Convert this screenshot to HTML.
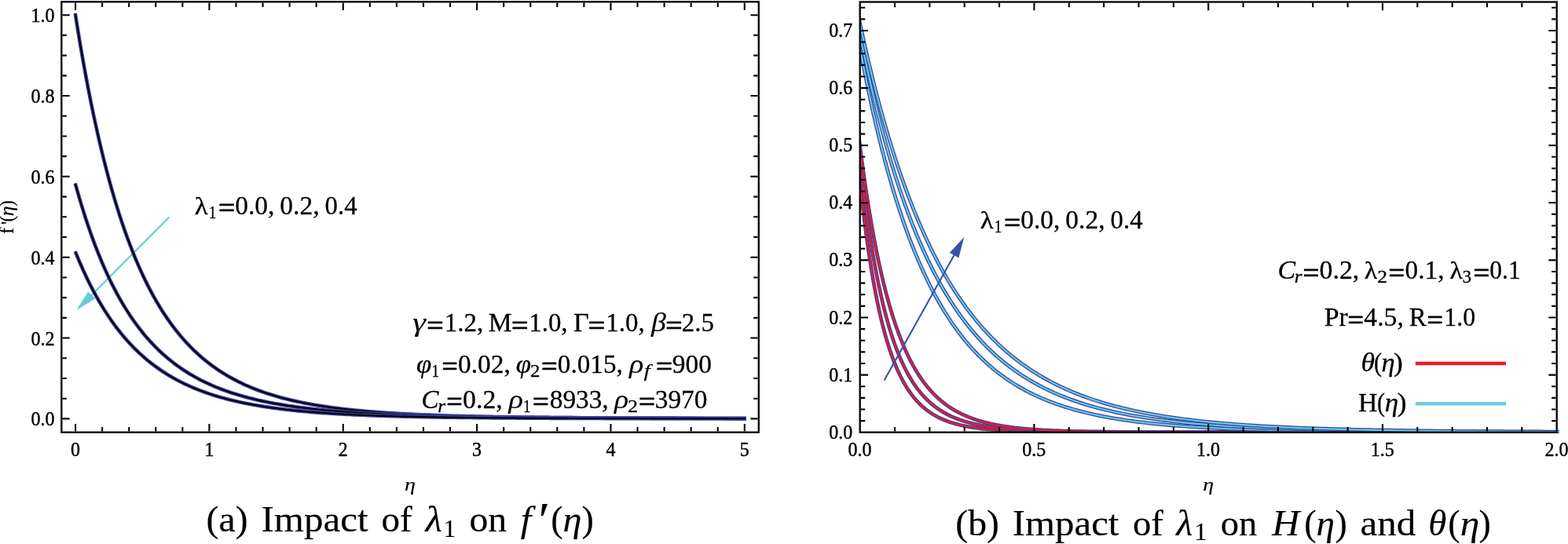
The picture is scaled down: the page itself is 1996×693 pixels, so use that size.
<!DOCTYPE html>
<html lang="en"><head><meta charset="utf-8"><title>Impact of λ1</title>
<style>html,body{margin:0;padding:0;background:#fff}body{width:1996px;height:693px}svg text{white-space:pre}</style>
</head><body>
<svg width="1996" height="693" viewBox="0 0 1996 693" style="display:block">
<rect width="1996" height="693" fill="#fff"/>
<g stroke="#69c9db" fill="#69c9db">
<line x1="215.4" y1="276.5" x2="115" y2="377.4" stroke-width="2.1"/>
<polygon points="97.4,395.1 112.1,371.5 121.2,380.4" stroke="none"/>
</g>
<g fill="none" stroke-linecap="butt" stroke-linejoin="round">
<path d="M95.75,17.23 L96.06,19.20 L99.35,39.80 L102.64,59.52 L105.93,78.41 L109.21,96.51 L112.50,113.85 L115.79,130.46 L119.08,146.37 L122.37,161.62 L125.66,176.24 L128.95,190.24 L132.23,203.67 L135.52,216.54 L138.81,228.87 L142.10,240.70 L145.39,252.05 L148.68,262.92 L151.97,273.35 L155.25,283.36 L158.54,292.95 L161.83,302.16 L165.12,310.99 L168.41,319.46 L171.70,327.60 L174.99,335.40 L178.28,342.89 L181.56,350.07 L184.85,356.97 L188.14,363.60 L191.43,369.95 L194.72,376.06 L198.01,381.92 L201.30,387.55 L204.58,392.96 L207.87,398.15 L211.16,403.14 L214.45,407.93 L217.74,412.54 L221.03,416.96 L224.32,421.21 L227.60,425.30 L230.89,429.23 L234.18,433.00 L237.47,436.63 L240.76,440.12 L244.05,443.47 L247.34,446.70 L250.62,449.80 L253.91,452.78 L257.20,455.65 L260.49,458.41 L263.78,461.06 L267.07,463.61 L270.36,466.07 L273.64,468.43 L276.93,470.71 L280.22,472.90 L283.51,475.01 L286.80,477.03 L290.09,478.99 L293.38,480.87 L296.67,482.68 L299.95,484.42 L303.24,486.10 L306.53,487.72 L309.82,489.27 L313.11,490.77 L316.40,492.22 L319.69,493.61 L322.97,494.95 L326.26,496.24 L329.55,497.49 L332.84,498.69 L336.13,499.85 L339.42,500.96 L342.71,502.04 L345.99,503.07 L349.28,504.07 L352.57,505.04 L355.86,505.97 L359.15,506.86 L362.44,507.73 L365.73,508.56 L369.01,509.37 L372.30,510.14 L375.59,510.89 L378.88,511.61 L382.17,512.31 L385.46,512.99 L388.75,513.64 L392.03,514.26 L395.32,514.87 L398.61,515.45 L401.90,516.02 L405.19,516.56 L408.48,517.09 L411.77,517.60 L415.06,518.09 L418.34,518.56 L421.63,519.02 L424.92,519.46 L428.21,519.89 L431.50,520.31 L434.79,520.71 L438.08,521.09 L441.36,521.47 L444.65,521.83 L447.94,522.17 L451.23,522.51 L454.52,522.84 L457.81,523.15 L461.10,523.46 L464.38,523.75 L467.67,524.04 L470.96,524.32 L474.25,524.58 L477.54,524.84 L480.83,525.09 L484.12,525.33 L487.40,525.57 L490.69,525.79 L493.98,526.01 L497.27,526.22 L500.56,526.43 L503.85,526.63 L507.14,526.82 L510.42,527.01 L513.71,527.19 L517.00,527.36 L520.29,527.53 L523.58,527.70 L526.87,527.86 L530.16,528.01 L533.45,528.16 L536.73,528.30 L540.02,528.44 L543.31,528.58 L546.60,528.71 L549.89,528.84 L553.18,528.96 L556.47,529.08 L559.75,529.20 L563.04,529.31 L566.33,529.42 L569.62,529.53 L572.91,529.63 L576.20,529.73 L579.49,529.83 L582.77,529.92 L586.06,530.01 L589.35,530.10 L592.64,530.19 L595.93,530.27 L599.22,530.35 L602.51,530.43 L605.79,530.51 L609.08,530.58 L612.37,530.65 L615.66,530.72 L618.95,530.79 L622.24,530.85 L625.53,530.92 L628.81,530.98 L632.10,531.04 L635.39,531.10 L638.68,531.15 L641.97,531.21 L645.26,531.26 L648.55,531.32 L651.84,531.37 L655.12,531.42 L658.41,531.46 L661.70,531.51 L664.99,531.56 L668.28,531.60 L671.57,531.64 L674.86,531.68 L678.14,531.72 L681.43,531.76 L684.72,531.80 L688.01,531.84 L691.30,531.87 L694.59,531.91 L697.88,531.94 L701.16,531.98 L704.45,532.01 L707.74,532.04 L711.03,532.07 L714.32,532.10 L717.61,532.13 L720.90,532.16 L724.18,532.19 L727.47,532.21 L730.76,532.24 L734.05,532.27 L737.34,532.29 L740.63,532.31 L743.92,532.34 L747.20,532.36 L750.49,532.38 L753.78,532.40 L757.07,532.43 L760.36,532.45 L763.65,532.47 L766.94,532.49 L770.23,532.51 L773.51,532.52 L776.80,532.54 L780.09,532.56 L783.38,532.58 L786.67,532.59 L789.96,532.61 L793.25,532.63 L796.53,532.64 L799.82,532.66 L803.11,532.67 L806.40,532.69 L809.69,532.70 L812.98,532.71 L816.27,532.73 L819.55,532.74 L822.84,532.75 L826.13,532.77 L829.42,532.78 L832.71,532.79 L836.00,532.80 L839.29,532.81 L842.57,532.82 L845.86,532.83 L849.15,532.85 L852.44,532.86 L855.73,532.87 L859.02,532.88 L862.31,532.88 L865.59,532.89 L868.88,532.90 L872.17,532.91 L875.46,532.92 L878.75,532.93 L882.04,532.94 L885.33,532.95 L888.62,532.95 L891.90,532.96 L895.19,532.97 L898.48,532.98 L901.77,532.98 L905.06,532.99 L908.35,533.00 L911.64,533.00 L914.92,533.01 L918.21,533.02 L921.50,533.02 L924.79,533.03 L928.08,533.04 L931.37,533.04 L934.66,533.05 L937.94,533.05 L941.23,533.06 L944.52,533.06 L947.81,533.07 L949.91,533.07" stroke="#3f3f9f" stroke-width="4.7"/>
<path d="M95.75,17.23 L96.06,19.20 L99.35,39.80 L102.64,59.52 L105.93,78.41 L109.21,96.51 L112.50,113.85 L115.79,130.46 L119.08,146.37 L122.37,161.62 L125.66,176.24 L128.95,190.24 L132.23,203.67 L135.52,216.54 L138.81,228.87 L142.10,240.70 L145.39,252.05 L148.68,262.92 L151.97,273.35 L155.25,283.36 L158.54,292.95 L161.83,302.16 L165.12,310.99 L168.41,319.46 L171.70,327.60 L174.99,335.40 L178.28,342.89 L181.56,350.07 L184.85,356.97 L188.14,363.60 L191.43,369.95 L194.72,376.06 L198.01,381.92 L201.30,387.55 L204.58,392.96 L207.87,398.15 L211.16,403.14 L214.45,407.93 L217.74,412.54 L221.03,416.96 L224.32,421.21 L227.60,425.30 L230.89,429.23 L234.18,433.00 L237.47,436.63 L240.76,440.12 L244.05,443.47 L247.34,446.70 L250.62,449.80 L253.91,452.78 L257.20,455.65 L260.49,458.41 L263.78,461.06 L267.07,463.61 L270.36,466.07 L273.64,468.43 L276.93,470.71 L280.22,472.90 L283.51,475.01 L286.80,477.03 L290.09,478.99 L293.38,480.87 L296.67,482.68 L299.95,484.42 L303.24,486.10 L306.53,487.72 L309.82,489.27 L313.11,490.77 L316.40,492.22 L319.69,493.61 L322.97,494.95 L326.26,496.24 L329.55,497.49 L332.84,498.69 L336.13,499.85 L339.42,500.96 L342.71,502.04 L345.99,503.07 L349.28,504.07 L352.57,505.04 L355.86,505.97 L359.15,506.86 L362.44,507.73 L365.73,508.56 L369.01,509.37 L372.30,510.14 L375.59,510.89 L378.88,511.61 L382.17,512.31 L385.46,512.99 L388.75,513.64 L392.03,514.26 L395.32,514.87 L398.61,515.45 L401.90,516.02 L405.19,516.56 L408.48,517.09 L411.77,517.60 L415.06,518.09 L418.34,518.56 L421.63,519.02 L424.92,519.46 L428.21,519.89 L431.50,520.31 L434.79,520.71 L438.08,521.09 L441.36,521.47 L444.65,521.83 L447.94,522.17 L451.23,522.51 L454.52,522.84 L457.81,523.15 L461.10,523.46 L464.38,523.75 L467.67,524.04 L470.96,524.32 L474.25,524.58 L477.54,524.84 L480.83,525.09 L484.12,525.33 L487.40,525.57 L490.69,525.79 L493.98,526.01 L497.27,526.22 L500.56,526.43 L503.85,526.63 L507.14,526.82 L510.42,527.01 L513.71,527.19 L517.00,527.36 L520.29,527.53 L523.58,527.70 L526.87,527.86 L530.16,528.01 L533.45,528.16 L536.73,528.30 L540.02,528.44 L543.31,528.58 L546.60,528.71 L549.89,528.84 L553.18,528.96 L556.47,529.08 L559.75,529.20 L563.04,529.31 L566.33,529.42 L569.62,529.53 L572.91,529.63 L576.20,529.73 L579.49,529.83 L582.77,529.92 L586.06,530.01 L589.35,530.10 L592.64,530.19 L595.93,530.27 L599.22,530.35 L602.51,530.43 L605.79,530.51 L609.08,530.58 L612.37,530.65 L615.66,530.72 L618.95,530.79 L622.24,530.85 L625.53,530.92 L628.81,530.98 L632.10,531.04 L635.39,531.10 L638.68,531.15 L641.97,531.21 L645.26,531.26 L648.55,531.32 L651.84,531.37 L655.12,531.42 L658.41,531.46 L661.70,531.51 L664.99,531.56 L668.28,531.60 L671.57,531.64 L674.86,531.68 L678.14,531.72 L681.43,531.76 L684.72,531.80 L688.01,531.84 L691.30,531.87 L694.59,531.91 L697.88,531.94 L701.16,531.98 L704.45,532.01 L707.74,532.04 L711.03,532.07 L714.32,532.10 L717.61,532.13 L720.90,532.16 L724.18,532.19 L727.47,532.21 L730.76,532.24 L734.05,532.27 L737.34,532.29 L740.63,532.31 L743.92,532.34 L747.20,532.36 L750.49,532.38 L753.78,532.40 L757.07,532.43 L760.36,532.45 L763.65,532.47 L766.94,532.49 L770.23,532.51 L773.51,532.52 L776.80,532.54 L780.09,532.56 L783.38,532.58 L786.67,532.59 L789.96,532.61 L793.25,532.63 L796.53,532.64 L799.82,532.66 L803.11,532.67 L806.40,532.69 L809.69,532.70 L812.98,532.71 L816.27,532.73 L819.55,532.74 L822.84,532.75 L826.13,532.77 L829.42,532.78 L832.71,532.79 L836.00,532.80 L839.29,532.81 L842.57,532.82 L845.86,532.83 L849.15,532.85 L852.44,532.86 L855.73,532.87 L859.02,532.88 L862.31,532.88 L865.59,532.89 L868.88,532.90 L872.17,532.91 L875.46,532.92 L878.75,532.93 L882.04,532.94 L885.33,532.95 L888.62,532.95 L891.90,532.96 L895.19,532.97 L898.48,532.98 L901.77,532.98 L905.06,532.99 L908.35,533.00 L911.64,533.00 L914.92,533.01 L918.21,533.02 L921.50,533.02 L924.79,533.03 L928.08,533.04 L931.37,533.04 L934.66,533.05 L937.94,533.05 L941.23,533.06 L944.52,533.06 L947.81,533.07 L948.91,533.07" stroke="#000" stroke-width="2.0"/>
<path d="M95.75,233.63 L96.06,234.75 L99.35,246.46 L102.64,257.68 L105.93,268.43 L109.21,278.73 L112.50,288.59 L115.79,298.05 L119.08,307.12 L122.37,315.81 L125.66,324.14 L128.95,332.13 L132.23,339.79 L135.52,347.14 L138.81,354.18 L142.10,360.94 L145.39,367.43 L148.68,373.65 L151.97,379.62 L155.25,385.35 L158.54,390.85 L161.83,396.13 L165.12,401.20 L168.41,406.06 L171.70,410.73 L174.99,415.22 L178.28,419.53 L181.56,423.67 L184.85,427.64 L188.14,431.46 L191.43,435.13 L194.72,438.65 L198.01,442.04 L201.30,445.30 L204.58,448.43 L207.87,451.44 L211.16,454.33 L214.45,457.12 L217.74,459.79 L221.03,462.37 L224.32,464.84 L227.60,467.22 L230.89,469.51 L234.18,471.72 L237.47,473.84 L240.76,475.88 L244.05,477.84 L247.34,479.73 L250.62,481.55 L253.91,483.31 L257.20,485.00 L260.49,486.62 L263.78,488.19 L267.07,489.69 L270.36,491.15 L273.64,492.55 L276.93,493.89 L280.22,495.19 L283.51,496.45 L286.80,497.65 L290.09,498.82 L293.38,499.94 L296.67,501.02 L299.95,502.06 L303.24,503.07 L306.53,504.04 L309.82,504.97 L313.11,505.87 L316.40,506.74 L319.69,507.58 L322.97,508.39 L326.26,509.17 L329.55,509.93 L332.84,510.66 L336.13,511.36 L339.42,512.04 L342.71,512.70 L345.99,513.33 L349.28,513.94 L352.57,514.53 L355.86,515.10 L359.15,515.65 L362.44,516.18 L365.73,516.70 L369.01,517.20 L372.30,517.68 L375.59,518.14 L378.88,518.59 L382.17,519.02 L385.46,519.44 L388.75,519.85 L392.03,520.24 L395.32,520.62 L398.61,520.99 L401.90,521.34 L405.19,521.69 L408.48,522.02 L411.77,522.34 L415.06,522.65 L418.34,522.95 L421.63,523.25 L424.92,523.53 L428.21,523.80 L431.50,524.07 L434.79,524.32 L438.08,524.57 L441.36,524.81 L444.65,525.04 L447.94,525.27 L451.23,525.49 L454.52,525.70 L457.81,525.90 L461.10,526.10 L464.38,526.30 L467.67,526.48 L470.96,526.66 L474.25,526.84 L477.54,527.01 L480.83,527.17 L484.12,527.33 L487.40,527.49 L490.69,527.64 L493.98,527.79 L497.27,527.93 L500.56,528.07 L503.85,528.20 L507.14,528.33 L510.42,528.45 L513.71,528.58 L517.00,528.69 L520.29,528.81 L523.58,528.92 L526.87,529.03 L530.16,529.13 L533.45,529.24 L536.73,529.34 L540.02,529.43 L543.31,529.53 L546.60,529.62 L549.89,529.71 L553.18,529.79 L556.47,529.87 L559.75,529.96 L563.04,530.04 L566.33,530.11 L569.62,530.19 L572.91,530.26 L576.20,530.33 L579.49,530.40 L582.77,530.46 L586.06,530.53 L589.35,530.59 L592.64,530.65 L595.93,530.71 L599.22,530.77 L602.51,530.83 L605.79,530.88 L609.08,530.94 L612.37,530.99 L615.66,531.04 L618.95,531.09 L622.24,531.14 L625.53,531.18 L628.81,531.23 L632.10,531.27 L635.39,531.32 L638.68,531.36 L641.97,531.40 L645.26,531.44 L648.55,531.48 L651.84,531.52 L655.12,531.55 L658.41,531.59 L661.70,531.63 L664.99,531.66 L668.28,531.69 L671.57,531.73 L674.86,531.76 L678.14,531.79 L681.43,531.82 L684.72,531.85 L688.01,531.88 L691.30,531.90 L694.59,531.93 L697.88,531.96 L701.16,531.98 L704.45,532.01 L707.74,532.03 L711.03,532.06 L714.32,532.08 L717.61,532.11 L720.90,532.13 L724.18,532.15 L727.47,532.17 L730.76,532.19 L734.05,532.21 L737.34,532.23 L740.63,532.25 L743.92,532.27 L747.20,532.29 L750.49,532.31 L753.78,532.32 L757.07,532.34 L760.36,532.36 L763.65,532.37 L766.94,532.39 L770.23,532.41 L773.51,532.42 L776.80,532.44 L780.09,532.45 L783.38,532.47 L786.67,532.48 L789.96,532.49 L793.25,532.51 L796.53,532.52 L799.82,532.53 L803.11,532.55 L806.40,532.56 L809.69,532.57 L812.98,532.58 L816.27,532.59 L819.55,532.60 L822.84,532.61 L826.13,532.62 L829.42,532.64 L832.71,532.65 L836.00,532.66 L839.29,532.67 L842.57,532.67 L845.86,532.68 L849.15,532.69 L852.44,532.70 L855.73,532.71 L859.02,532.72 L862.31,532.73 L865.59,532.74 L868.88,532.74 L872.17,532.75 L875.46,532.76 L878.75,532.77 L882.04,532.77 L885.33,532.78 L888.62,532.79 L891.90,532.80 L895.19,532.80 L898.48,532.81 L901.77,532.81 L905.06,532.82 L908.35,532.83 L911.64,532.83 L914.92,532.84 L918.21,532.84 L921.50,532.85 L924.79,532.86 L928.08,532.86 L931.37,532.87 L934.66,532.87 L937.94,532.88 L941.23,532.88 L944.52,532.89 L947.81,532.89 L949.91,532.89" stroke="#3f3f9f" stroke-width="4.7"/>
<path d="M95.75,233.63 L96.06,234.75 L99.35,246.46 L102.64,257.68 L105.93,268.43 L109.21,278.73 L112.50,288.59 L115.79,298.05 L119.08,307.12 L122.37,315.81 L125.66,324.14 L128.95,332.13 L132.23,339.79 L135.52,347.14 L138.81,354.18 L142.10,360.94 L145.39,367.43 L148.68,373.65 L151.97,379.62 L155.25,385.35 L158.54,390.85 L161.83,396.13 L165.12,401.20 L168.41,406.06 L171.70,410.73 L174.99,415.22 L178.28,419.53 L181.56,423.67 L184.85,427.64 L188.14,431.46 L191.43,435.13 L194.72,438.65 L198.01,442.04 L201.30,445.30 L204.58,448.43 L207.87,451.44 L211.16,454.33 L214.45,457.12 L217.74,459.79 L221.03,462.37 L224.32,464.84 L227.60,467.22 L230.89,469.51 L234.18,471.72 L237.47,473.84 L240.76,475.88 L244.05,477.84 L247.34,479.73 L250.62,481.55 L253.91,483.31 L257.20,485.00 L260.49,486.62 L263.78,488.19 L267.07,489.69 L270.36,491.15 L273.64,492.55 L276.93,493.89 L280.22,495.19 L283.51,496.45 L286.80,497.65 L290.09,498.82 L293.38,499.94 L296.67,501.02 L299.95,502.06 L303.24,503.07 L306.53,504.04 L309.82,504.97 L313.11,505.87 L316.40,506.74 L319.69,507.58 L322.97,508.39 L326.26,509.17 L329.55,509.93 L332.84,510.66 L336.13,511.36 L339.42,512.04 L342.71,512.70 L345.99,513.33 L349.28,513.94 L352.57,514.53 L355.86,515.10 L359.15,515.65 L362.44,516.18 L365.73,516.70 L369.01,517.20 L372.30,517.68 L375.59,518.14 L378.88,518.59 L382.17,519.02 L385.46,519.44 L388.75,519.85 L392.03,520.24 L395.32,520.62 L398.61,520.99 L401.90,521.34 L405.19,521.69 L408.48,522.02 L411.77,522.34 L415.06,522.65 L418.34,522.95 L421.63,523.25 L424.92,523.53 L428.21,523.80 L431.50,524.07 L434.79,524.32 L438.08,524.57 L441.36,524.81 L444.65,525.04 L447.94,525.27 L451.23,525.49 L454.52,525.70 L457.81,525.90 L461.10,526.10 L464.38,526.30 L467.67,526.48 L470.96,526.66 L474.25,526.84 L477.54,527.01 L480.83,527.17 L484.12,527.33 L487.40,527.49 L490.69,527.64 L493.98,527.79 L497.27,527.93 L500.56,528.07 L503.85,528.20 L507.14,528.33 L510.42,528.45 L513.71,528.58 L517.00,528.69 L520.29,528.81 L523.58,528.92 L526.87,529.03 L530.16,529.13 L533.45,529.24 L536.73,529.34 L540.02,529.43 L543.31,529.53 L546.60,529.62 L549.89,529.71 L553.18,529.79 L556.47,529.87 L559.75,529.96 L563.04,530.04 L566.33,530.11 L569.62,530.19 L572.91,530.26 L576.20,530.33 L579.49,530.40 L582.77,530.46 L586.06,530.53 L589.35,530.59 L592.64,530.65 L595.93,530.71 L599.22,530.77 L602.51,530.83 L605.79,530.88 L609.08,530.94 L612.37,530.99 L615.66,531.04 L618.95,531.09 L622.24,531.14 L625.53,531.18 L628.81,531.23 L632.10,531.27 L635.39,531.32 L638.68,531.36 L641.97,531.40 L645.26,531.44 L648.55,531.48 L651.84,531.52 L655.12,531.55 L658.41,531.59 L661.70,531.63 L664.99,531.66 L668.28,531.69 L671.57,531.73 L674.86,531.76 L678.14,531.79 L681.43,531.82 L684.72,531.85 L688.01,531.88 L691.30,531.90 L694.59,531.93 L697.88,531.96 L701.16,531.98 L704.45,532.01 L707.74,532.03 L711.03,532.06 L714.32,532.08 L717.61,532.11 L720.90,532.13 L724.18,532.15 L727.47,532.17 L730.76,532.19 L734.05,532.21 L737.34,532.23 L740.63,532.25 L743.92,532.27 L747.20,532.29 L750.49,532.31 L753.78,532.32 L757.07,532.34 L760.36,532.36 L763.65,532.37 L766.94,532.39 L770.23,532.41 L773.51,532.42 L776.80,532.44 L780.09,532.45 L783.38,532.47 L786.67,532.48 L789.96,532.49 L793.25,532.51 L796.53,532.52 L799.82,532.53 L803.11,532.55 L806.40,532.56 L809.69,532.57 L812.98,532.58 L816.27,532.59 L819.55,532.60 L822.84,532.61 L826.13,532.62 L829.42,532.64 L832.71,532.65 L836.00,532.66 L839.29,532.67 L842.57,532.67 L845.86,532.68 L849.15,532.69 L852.44,532.70 L855.73,532.71 L859.02,532.72 L862.31,532.73 L865.59,532.74 L868.88,532.74 L872.17,532.75 L875.46,532.76 L878.75,532.77 L882.04,532.77 L885.33,532.78 L888.62,532.79 L891.90,532.80 L895.19,532.80 L898.48,532.81 L901.77,532.81 L905.06,532.82 L908.35,532.83 L911.64,532.83 L914.92,532.84 L918.21,532.84 L921.50,532.85 L924.79,532.86 L928.08,532.86 L931.37,532.87 L934.66,532.87 L937.94,532.88 L941.23,532.88 L944.52,532.89 L947.81,532.89 L948.91,532.89" stroke="#000" stroke-width="2.0"/>
<path d="M95.75,320.27 L96.06,321.04 L99.35,329.07 L102.64,336.79 L105.93,344.20 L109.21,351.32 L112.50,358.15 L115.79,364.72 L119.08,371.03 L122.37,377.09 L125.66,382.92 L128.95,388.52 L132.23,393.89 L135.52,399.06 L138.81,404.03 L142.10,408.80 L145.39,413.39 L148.68,417.81 L151.97,422.05 L155.25,426.12 L158.54,430.05 L161.83,433.82 L165.12,437.44 L168.41,440.93 L171.70,444.28 L174.99,447.50 L178.28,450.61 L181.56,453.59 L184.85,456.46 L188.14,459.22 L191.43,461.88 L194.72,464.44 L198.01,466.90 L201.30,469.27 L204.58,471.55 L207.87,473.74 L211.16,475.85 L214.45,477.89 L217.74,479.84 L221.03,481.73 L224.32,483.54 L227.60,485.29 L230.89,486.97 L234.18,488.59 L237.47,490.15 L240.76,491.65 L244.05,493.10 L247.34,494.50 L250.62,495.84 L253.91,497.13 L257.20,498.38 L260.49,499.58 L263.78,500.74 L267.07,501.86 L270.36,502.93 L273.64,503.97 L276.93,504.97 L280.22,505.93 L283.51,506.86 L286.80,507.76 L290.09,508.62 L293.38,509.45 L296.67,510.26 L299.95,511.03 L303.24,511.78 L306.53,512.50 L309.82,513.19 L313.11,513.86 L316.40,514.51 L319.69,515.13 L322.97,515.73 L326.26,516.31 L329.55,516.88 L332.84,517.42 L336.13,517.94 L339.42,518.44 L342.71,518.93 L345.99,519.40 L349.28,519.85 L352.57,520.29 L355.86,520.71 L359.15,521.12 L362.44,521.51 L365.73,521.89 L369.01,522.26 L372.30,522.62 L375.59,522.96 L378.88,523.29 L382.17,523.61 L385.46,523.92 L388.75,524.22 L392.03,524.51 L395.32,524.79 L398.61,525.06 L401.90,525.32 L405.19,525.57 L408.48,525.81 L411.77,526.05 L415.06,526.27 L418.34,526.49 L421.63,526.71 L424.92,526.91 L428.21,527.11 L431.50,527.30 L434.79,527.49 L438.08,527.67 L441.36,527.84 L444.65,528.01 L447.94,528.17 L451.23,528.33 L454.52,528.48 L457.81,528.63 L461.10,528.77 L464.38,528.91 L467.67,529.05 L470.96,529.17 L474.25,529.30 L477.54,529.42 L480.83,529.54 L484.12,529.65 L487.40,529.76 L490.69,529.87 L493.98,529.97 L497.27,530.07 L500.56,530.17 L503.85,530.26 L507.14,530.35 L510.42,530.44 L513.71,530.53 L517.00,530.61 L520.29,530.69 L523.58,530.77 L526.87,530.84 L530.16,530.91 L533.45,530.98 L536.73,531.05 L540.02,531.12 L543.31,531.18 L546.60,531.24 L549.89,531.30 L553.18,531.36 L556.47,531.42 L559.75,531.47 L563.04,531.53 L566.33,531.58 L569.62,531.63 L572.91,531.68 L576.20,531.73 L579.49,531.77 L582.77,531.82 L586.06,531.86 L589.35,531.90 L592.64,531.94 L595.93,531.98 L599.22,532.02 L602.51,532.06 L605.79,532.09 L609.08,532.13 L612.37,532.16 L615.66,532.19 L618.95,532.22 L622.24,532.26 L625.53,532.29 L628.81,532.32 L632.10,532.34 L635.39,532.37 L638.68,532.40 L641.97,532.42 L645.26,532.45 L648.55,532.47 L651.84,532.50 L655.12,532.52 L658.41,532.54 L661.70,532.56 L664.99,532.59 L668.28,532.61 L671.57,532.63 L674.86,532.65 L678.14,532.67 L681.43,532.68 L684.72,532.70 L688.01,532.72 L691.30,532.74 L694.59,532.75 L697.88,532.77 L701.16,532.78 L704.45,532.80 L707.74,532.81 L711.03,532.83 L714.32,532.84 L717.61,532.86 L720.90,532.87 L724.18,532.88 L727.47,532.89 L730.76,532.91 L734.05,532.92 L737.34,532.93 L740.63,532.94 L743.92,532.95 L747.20,532.96 L750.49,532.97 L753.78,532.98 L757.07,532.99 L760.36,533.00 L763.65,533.01 L766.94,533.02 L770.23,533.03 L773.51,533.04 L776.80,533.05 L780.09,533.05 L783.38,533.06 L786.67,533.07 L789.96,533.08 L793.25,533.08 L796.53,533.09 L799.82,533.10 L803.11,533.10 L806.40,533.11 L809.69,533.12 L812.98,533.12 L816.27,533.13 L819.55,533.14 L822.84,533.14 L826.13,533.15 L829.42,533.15 L832.71,533.16 L836.00,533.16 L839.29,533.17 L842.57,533.17 L845.86,533.18 L849.15,533.18 L852.44,533.19 L855.73,533.19 L859.02,533.20 L862.31,533.20 L865.59,533.21 L868.88,533.21 L872.17,533.21 L875.46,533.22 L878.75,533.22 L882.04,533.22 L885.33,533.23 L888.62,533.23 L891.90,533.24 L895.19,533.24 L898.48,533.24 L901.77,533.24 L905.06,533.25 L908.35,533.25 L911.64,533.25 L914.92,533.26 L918.21,533.26 L921.50,533.26 L924.79,533.27 L928.08,533.27 L931.37,533.27 L934.66,533.27 L937.94,533.28 L941.23,533.28 L944.52,533.28 L947.81,533.28 L949.91,533.28" stroke="#3f3f9f" stroke-width="4.7"/>
<path d="M95.75,320.27 L96.06,321.04 L99.35,329.07 L102.64,336.79 L105.93,344.20 L109.21,351.32 L112.50,358.15 L115.79,364.72 L119.08,371.03 L122.37,377.09 L125.66,382.92 L128.95,388.52 L132.23,393.89 L135.52,399.06 L138.81,404.03 L142.10,408.80 L145.39,413.39 L148.68,417.81 L151.97,422.05 L155.25,426.12 L158.54,430.05 L161.83,433.82 L165.12,437.44 L168.41,440.93 L171.70,444.28 L174.99,447.50 L178.28,450.61 L181.56,453.59 L184.85,456.46 L188.14,459.22 L191.43,461.88 L194.72,464.44 L198.01,466.90 L201.30,469.27 L204.58,471.55 L207.87,473.74 L211.16,475.85 L214.45,477.89 L217.74,479.84 L221.03,481.73 L224.32,483.54 L227.60,485.29 L230.89,486.97 L234.18,488.59 L237.47,490.15 L240.76,491.65 L244.05,493.10 L247.34,494.50 L250.62,495.84 L253.91,497.13 L257.20,498.38 L260.49,499.58 L263.78,500.74 L267.07,501.86 L270.36,502.93 L273.64,503.97 L276.93,504.97 L280.22,505.93 L283.51,506.86 L286.80,507.76 L290.09,508.62 L293.38,509.45 L296.67,510.26 L299.95,511.03 L303.24,511.78 L306.53,512.50 L309.82,513.19 L313.11,513.86 L316.40,514.51 L319.69,515.13 L322.97,515.73 L326.26,516.31 L329.55,516.88 L332.84,517.42 L336.13,517.94 L339.42,518.44 L342.71,518.93 L345.99,519.40 L349.28,519.85 L352.57,520.29 L355.86,520.71 L359.15,521.12 L362.44,521.51 L365.73,521.89 L369.01,522.26 L372.30,522.62 L375.59,522.96 L378.88,523.29 L382.17,523.61 L385.46,523.92 L388.75,524.22 L392.03,524.51 L395.32,524.79 L398.61,525.06 L401.90,525.32 L405.19,525.57 L408.48,525.81 L411.77,526.05 L415.06,526.27 L418.34,526.49 L421.63,526.71 L424.92,526.91 L428.21,527.11 L431.50,527.30 L434.79,527.49 L438.08,527.67 L441.36,527.84 L444.65,528.01 L447.94,528.17 L451.23,528.33 L454.52,528.48 L457.81,528.63 L461.10,528.77 L464.38,528.91 L467.67,529.05 L470.96,529.17 L474.25,529.30 L477.54,529.42 L480.83,529.54 L484.12,529.65 L487.40,529.76 L490.69,529.87 L493.98,529.97 L497.27,530.07 L500.56,530.17 L503.85,530.26 L507.14,530.35 L510.42,530.44 L513.71,530.53 L517.00,530.61 L520.29,530.69 L523.58,530.77 L526.87,530.84 L530.16,530.91 L533.45,530.98 L536.73,531.05 L540.02,531.12 L543.31,531.18 L546.60,531.24 L549.89,531.30 L553.18,531.36 L556.47,531.42 L559.75,531.47 L563.04,531.53 L566.33,531.58 L569.62,531.63 L572.91,531.68 L576.20,531.73 L579.49,531.77 L582.77,531.82 L586.06,531.86 L589.35,531.90 L592.64,531.94 L595.93,531.98 L599.22,532.02 L602.51,532.06 L605.79,532.09 L609.08,532.13 L612.37,532.16 L615.66,532.19 L618.95,532.22 L622.24,532.26 L625.53,532.29 L628.81,532.32 L632.10,532.34 L635.39,532.37 L638.68,532.40 L641.97,532.42 L645.26,532.45 L648.55,532.47 L651.84,532.50 L655.12,532.52 L658.41,532.54 L661.70,532.56 L664.99,532.59 L668.28,532.61 L671.57,532.63 L674.86,532.65 L678.14,532.67 L681.43,532.68 L684.72,532.70 L688.01,532.72 L691.30,532.74 L694.59,532.75 L697.88,532.77 L701.16,532.78 L704.45,532.80 L707.74,532.81 L711.03,532.83 L714.32,532.84 L717.61,532.86 L720.90,532.87 L724.18,532.88 L727.47,532.89 L730.76,532.91 L734.05,532.92 L737.34,532.93 L740.63,532.94 L743.92,532.95 L747.20,532.96 L750.49,532.97 L753.78,532.98 L757.07,532.99 L760.36,533.00 L763.65,533.01 L766.94,533.02 L770.23,533.03 L773.51,533.04 L776.80,533.05 L780.09,533.05 L783.38,533.06 L786.67,533.07 L789.96,533.08 L793.25,533.08 L796.53,533.09 L799.82,533.10 L803.11,533.10 L806.40,533.11 L809.69,533.12 L812.98,533.12 L816.27,533.13 L819.55,533.14 L822.84,533.14 L826.13,533.15 L829.42,533.15 L832.71,533.16 L836.00,533.16 L839.29,533.17 L842.57,533.17 L845.86,533.18 L849.15,533.18 L852.44,533.19 L855.73,533.19 L859.02,533.20 L862.31,533.20 L865.59,533.21 L868.88,533.21 L872.17,533.21 L875.46,533.22 L878.75,533.22 L882.04,533.22 L885.33,533.23 L888.62,533.23 L891.90,533.24 L895.19,533.24 L898.48,533.24 L901.77,533.24 L905.06,533.25 L908.35,533.25 L911.64,533.25 L914.92,533.26 L918.21,533.26 L921.50,533.26 L924.79,533.27 L928.08,533.27 L931.37,533.27 L934.66,533.27 L937.94,533.28 L941.23,533.28 L944.52,533.28 L947.81,533.28 L948.91,533.28" stroke="#000" stroke-width="2.0"/>
</g>
<clipPath id="rc"><rect x="1094.7" y="0" width="890.3" height="551.8"/></clipPath>
<g fill="none" stroke-linecap="butt" stroke-linejoin="round" clip-path="url(#rc)">
<path d="M1089.38,175.68 L1094.70,231.11 L1096.49,247.74 L1098.27,263.48 L1100.06,278.36 L1101.84,292.45 L1103.63,305.79 L1105.42,318.41 L1107.20,330.35 L1108.99,341.66 L1110.77,352.36 L1112.56,362.50 L1114.34,372.10 L1116.13,381.19 L1117.92,389.80 L1119.70,397.96 L1121.49,405.68 L1123.27,413.00 L1125.06,419.94 L1126.85,426.51 L1128.63,432.74 L1130.42,438.65 L1132.20,444.25 L1133.99,449.55 L1135.78,454.59 L1137.56,459.36 L1139.35,463.88 L1141.13,468.18 L1142.92,472.25 L1144.71,476.11 L1146.49,479.77 L1148.28,483.25 L1150.06,486.55 L1151.85,489.68 L1153.63,492.65 L1155.42,495.48 L1157.21,498.15 L1158.99,500.70 L1160.78,503.11 L1162.56,505.40 L1164.35,507.58 L1166.14,509.65 L1167.92,511.62 L1169.71,513.48 L1171.49,515.26 L1173.28,516.94 L1175.07,518.54 L1176.85,520.07 L1178.64,521.51 L1180.42,522.89 L1182.21,524.20 L1184.00,525.44 L1185.78,526.62 L1187.57,527.75 L1189.35,528.82 L1191.14,529.84 L1192.92,530.80 L1194.71,531.73 L1196.50,532.60 L1198.28,533.44 L1200.07,534.23 L1201.85,534.99 L1203.64,535.71 L1205.43,536.39 L1207.21,537.04 L1209.00,537.66 L1210.78,538.25 L1212.57,538.82 L1214.36,539.35 L1216.14,539.87 L1217.93,540.35 L1219.71,540.82 L1221.50,541.26 L1223.29,541.68 L1225.07,542.08 L1226.86,542.46 L1228.64,542.83 L1230.43,543.18 L1232.21,543.51 L1234.00,543.83 L1235.79,544.13 L1237.57,544.41 L1239.36,544.69 L1241.14,544.95 L1242.93,545.20 L1244.72,545.44 L1246.50,545.67 L1248.29,545.88 L1250.07,546.09 L1251.86,546.29 L1253.65,546.48 L1255.43,546.66 L1257.22,546.83 L1259.00,547.00 L1260.79,547.15 L1262.58,547.30 L1264.36,547.45 L1266.15,547.58 L1267.93,547.71 L1269.72,547.84 L1271.50,547.96 L1273.29,548.07 L1275.08,548.18 L1276.86,548.29 L1278.65,548.39 L1280.43,548.48 L1282.22,548.57 L1284.01,548.66 L1285.79,548.74 L1287.58,548.82 L1289.36,548.90 L1291.15,548.97 L1292.94,549.04 L1294.72,549.11 L1296.51,549.17 L1298.29,549.24 L1300.08,549.29 L1301.87,549.35 L1303.65,549.40 L1305.44,549.46 L1307.22,549.51 L1309.01,549.55 L1310.79,549.60 L1312.58,549.64 L1314.37,549.68 L1316.15,549.72 L1317.94,549.76 L1319.72,549.80 L1321.51,549.83 L1323.30,549.87 L1325.08,549.90 L1326.87,549.93 L1328.65,549.96 L1330.44,549.99 L1332.23,550.01 L1334.01,550.04 L1335.80,550.07 L1337.58,550.09 L1339.37,550.11 L1341.16,550.13 L1342.94,550.16 L1344.73,550.18 L1346.51,550.20 L1348.30,550.21 L1350.08,550.23 L1351.87,550.25 L1353.66,550.27 L1355.44,550.28 L1357.23,550.30 L1359.01,550.31 L1360.80,550.33 L1366.05,550.37 L1371.29,550.40 L1376.54,550.43 L1381.78,550.46 L1387.03,550.48 L1392.27,550.50 L1397.52,550.52 L1402.76,550.54 L1408.01,550.55 L1413.26,550.57 L1418.50,550.58 L1423.75,550.59 L1428.99,550.60 L1434.24,550.61 L1439.48,550.62 L1444.73,550.63 L1449.98,550.63 L1455.22,550.64 L1460.47,550.64 L1465.71,550.65 L1470.96,550.65 L1476.20,550.66 L1481.45,550.66 L1486.69,550.66 L1491.94,550.67 L1497.19,550.67 L1502.43,550.67 L1507.68,550.67 L1512.92,550.68 L1518.17,550.68 L1523.41,550.68 L1528.66,550.68 L1533.90,550.68 L1539.15,550.68 L1544.40,550.69 L1549.64,550.69 L1554.89,550.69 L1560.13,550.69 L1565.38,550.69 L1570.62,550.69 L1575.87,550.69 L1581.12,550.69 L1586.36,550.69 L1591.61,550.69 L1596.85,550.69 L1602.10,550.69 L1607.34,550.69 L1612.59,550.69 L1617.83,550.69 L1623.08,550.69 L1628.33,550.70 L1633.57,550.70 L1638.82,550.70 L1644.06,550.70 L1649.31,550.70 L1654.55,550.70 L1659.80,550.70 L1665.04,550.70 L1670.29,550.70 L1675.54,550.70 L1680.78,550.70 L1686.03,550.70 L1691.27,550.70 L1696.52,550.70 L1701.76,550.70 L1707.01,550.70 L1712.26,550.70 L1717.50,550.70 L1722.75,550.70 L1727.99,550.70 L1733.24,550.70 L1738.48,550.70 L1743.73,550.70 L1748.97,550.70 L1754.22,550.70 L1759.47,550.70 L1764.71,550.70 L1769.96,550.70 L1775.20,550.70 L1780.45,550.70 L1785.69,550.70 L1790.94,550.70 L1796.18,550.70 L1801.43,550.70 L1806.68,550.70 L1811.92,550.70 L1817.17,550.70 L1822.41,550.70 L1827.66,550.70 L1832.90,550.70 L1838.15,550.70 L1843.40,550.70 L1848.64,550.70 L1853.89,550.70 L1859.13,550.70 L1864.38,550.70 L1869.62,550.70 L1874.87,550.70 L1880.11,550.70 L1885.36,550.70 L1890.61,550.70 L1895.85,550.70 L1901.10,550.70 L1906.34,550.70 L1911.59,550.70 L1916.83,550.70 L1922.08,550.70 L1927.32,550.70 L1932.57,550.70 L1937.82,550.70 L1943.06,550.70 L1948.31,550.70 L1953.55,550.70 L1958.80,550.70 L1964.04,550.70 L1969.29,550.70 L1974.54,550.70 L1979.78,550.70 L1985.03,550.70" stroke="#3f3f9f" stroke-width="4.7"/>
<path d="M1089.38,175.68 L1094.70,231.11 L1096.49,247.74 L1098.27,263.48 L1100.06,278.36 L1101.84,292.45 L1103.63,305.79 L1105.42,318.41 L1107.20,330.35 L1108.99,341.66 L1110.77,352.36 L1112.56,362.50 L1114.34,372.10 L1116.13,381.19 L1117.92,389.80 L1119.70,397.96 L1121.49,405.68 L1123.27,413.00 L1125.06,419.94 L1126.85,426.51 L1128.63,432.74 L1130.42,438.65 L1132.20,444.25 L1133.99,449.55 L1135.78,454.59 L1137.56,459.36 L1139.35,463.88 L1141.13,468.18 L1142.92,472.25 L1144.71,476.11 L1146.49,479.77 L1148.28,483.25 L1150.06,486.55 L1151.85,489.68 L1153.63,492.65 L1155.42,495.48 L1157.21,498.15 L1158.99,500.70 L1160.78,503.11 L1162.56,505.40 L1164.35,507.58 L1166.14,509.65 L1167.92,511.62 L1169.71,513.48 L1171.49,515.26 L1173.28,516.94 L1175.07,518.54 L1176.85,520.07 L1178.64,521.51 L1180.42,522.89 L1182.21,524.20 L1184.00,525.44 L1185.78,526.62 L1187.57,527.75 L1189.35,528.82 L1191.14,529.84 L1192.92,530.80 L1194.71,531.73 L1196.50,532.60 L1198.28,533.44 L1200.07,534.23 L1201.85,534.99 L1203.64,535.71 L1205.43,536.39 L1207.21,537.04 L1209.00,537.66 L1210.78,538.25 L1212.57,538.82 L1214.36,539.35 L1216.14,539.87 L1217.93,540.35 L1219.71,540.82 L1221.50,541.26 L1223.29,541.68 L1225.07,542.08 L1226.86,542.46 L1228.64,542.83 L1230.43,543.18 L1232.21,543.51 L1234.00,543.83 L1235.79,544.13 L1237.57,544.41 L1239.36,544.69 L1241.14,544.95 L1242.93,545.20 L1244.72,545.44 L1246.50,545.67 L1248.29,545.88 L1250.07,546.09 L1251.86,546.29 L1253.65,546.48 L1255.43,546.66 L1257.22,546.83 L1259.00,547.00 L1260.79,547.15 L1262.58,547.30 L1264.36,547.45 L1266.15,547.58 L1267.93,547.71 L1269.72,547.84 L1271.50,547.96 L1273.29,548.07 L1275.08,548.18 L1276.86,548.29 L1278.65,548.39 L1280.43,548.48 L1282.22,548.57 L1284.01,548.66 L1285.79,548.74 L1287.58,548.82 L1289.36,548.90 L1291.15,548.97 L1292.94,549.04 L1294.72,549.11 L1296.51,549.17 L1298.29,549.24 L1300.08,549.29 L1301.87,549.35 L1303.65,549.40 L1305.44,549.46 L1307.22,549.51 L1309.01,549.55 L1310.79,549.60 L1312.58,549.64 L1314.37,549.68 L1316.15,549.72 L1317.94,549.76 L1319.72,549.80 L1321.51,549.83 L1323.30,549.87 L1325.08,549.90 L1326.87,549.93 L1328.65,549.96 L1330.44,549.99 L1332.23,550.01 L1334.01,550.04 L1335.80,550.07 L1337.58,550.09 L1339.37,550.11 L1341.16,550.13 L1342.94,550.16 L1344.73,550.18 L1346.51,550.20 L1348.30,550.21 L1350.08,550.23 L1351.87,550.25 L1353.66,550.27 L1355.44,550.28 L1357.23,550.30 L1359.01,550.31 L1360.80,550.33 L1366.05,550.37 L1371.29,550.40 L1376.54,550.43 L1381.78,550.46 L1387.03,550.48 L1392.27,550.50 L1397.52,550.52 L1402.76,550.54 L1408.01,550.55 L1413.26,550.57 L1418.50,550.58 L1423.75,550.59 L1428.99,550.60 L1434.24,550.61 L1439.48,550.62 L1444.73,550.63 L1449.98,550.63 L1455.22,550.64 L1460.47,550.64 L1465.71,550.65 L1470.96,550.65 L1476.20,550.66 L1481.45,550.66 L1486.69,550.66 L1491.94,550.67 L1497.19,550.67 L1502.43,550.67 L1507.68,550.67 L1512.92,550.68 L1518.17,550.68 L1523.41,550.68 L1528.66,550.68 L1533.90,550.68 L1539.15,550.68 L1544.40,550.69 L1549.64,550.69 L1554.89,550.69 L1560.13,550.69 L1565.38,550.69 L1570.62,550.69 L1575.87,550.69 L1581.12,550.69 L1586.36,550.69 L1591.61,550.69 L1596.85,550.69 L1602.10,550.69 L1607.34,550.69 L1612.59,550.69 L1617.83,550.69 L1623.08,550.69 L1628.33,550.70 L1633.57,550.70 L1638.82,550.70 L1644.06,550.70 L1649.31,550.70 L1654.55,550.70 L1659.80,550.70 L1665.04,550.70 L1670.29,550.70 L1675.54,550.70 L1680.78,550.70 L1686.03,550.70 L1691.27,550.70 L1696.52,550.70 L1701.76,550.70 L1707.01,550.70 L1712.26,550.70 L1717.50,550.70 L1722.75,550.70 L1727.99,550.70 L1733.24,550.70 L1738.48,550.70 L1743.73,550.70 L1748.97,550.70 L1754.22,550.70 L1759.47,550.70 L1764.71,550.70 L1769.96,550.70 L1775.20,550.70 L1780.45,550.70 L1785.69,550.70 L1790.94,550.70 L1796.18,550.70 L1801.43,550.70 L1806.68,550.70 L1811.92,550.70 L1817.17,550.70 L1822.41,550.70 L1827.66,550.70 L1832.90,550.70 L1838.15,550.70 L1843.40,550.70 L1848.64,550.70 L1853.89,550.70 L1859.13,550.70 L1864.38,550.70 L1869.62,550.70 L1874.87,550.70 L1880.11,550.70 L1885.36,550.70 L1890.61,550.70 L1895.85,550.70 L1901.10,550.70 L1906.34,550.70 L1911.59,550.70 L1916.83,550.70 L1922.08,550.70 L1927.32,550.70 L1932.57,550.70 L1937.82,550.70 L1943.06,550.70 L1948.31,550.70 L1953.55,550.70 L1958.80,550.70 L1964.04,550.70 L1969.29,550.70 L1974.54,550.70 L1979.78,550.70 L1985.03,550.70" stroke="#ee1c25" stroke-width="2.2"/>
<path d="M1089.38,149.97 L1094.70,202.45 L1096.49,218.41 L1098.27,233.60 L1100.06,248.07 L1101.84,261.84 L1103.63,274.96 L1105.42,287.46 L1107.20,299.37 L1108.99,310.71 L1110.77,321.52 L1112.56,331.82 L1114.34,341.63 L1116.13,350.99 L1117.92,359.90 L1119.70,368.40 L1121.49,376.51 L1123.27,384.23 L1125.06,391.60 L1126.85,398.62 L1128.63,405.32 L1130.42,411.72 L1132.20,417.81 L1133.99,423.63 L1135.78,429.18 L1137.56,434.47 L1139.35,439.52 L1141.13,444.35 L1142.92,448.95 L1144.71,453.34 L1146.49,457.54 L1148.28,461.54 L1150.06,465.36 L1151.85,469.01 L1153.63,472.50 L1155.42,475.83 L1157.21,479.01 L1158.99,482.05 L1160.78,484.96 L1162.56,487.73 L1164.35,490.38 L1166.14,492.91 L1167.92,495.34 L1169.71,497.65 L1171.49,499.86 L1173.28,501.98 L1175.07,504.00 L1176.85,505.93 L1178.64,507.78 L1180.42,509.55 L1182.21,511.24 L1184.00,512.86 L1185.78,514.41 L1187.57,515.89 L1189.35,517.31 L1191.14,518.67 L1192.92,519.96 L1194.71,521.21 L1196.50,522.40 L1198.28,523.54 L1200.07,524.63 L1201.85,525.67 L1203.64,526.67 L1205.43,527.63 L1207.21,528.54 L1209.00,529.42 L1210.78,530.26 L1212.57,531.07 L1214.36,531.84 L1216.14,532.58 L1217.93,533.29 L1219.71,533.97 L1221.50,534.62 L1223.29,535.25 L1225.07,535.85 L1226.86,536.42 L1228.64,536.97 L1230.43,537.50 L1232.21,538.01 L1234.00,538.49 L1235.79,538.96 L1237.57,539.41 L1239.36,539.83 L1241.14,540.25 L1242.93,540.64 L1244.72,541.02 L1246.50,541.38 L1248.29,541.73 L1250.07,542.07 L1251.86,542.39 L1253.65,542.70 L1255.43,543.00 L1257.22,543.28 L1259.00,543.55 L1260.79,543.82 L1262.58,544.07 L1264.36,544.31 L1266.15,544.55 L1267.93,544.77 L1269.72,544.98 L1271.50,545.19 L1273.29,545.39 L1275.08,545.58 L1276.86,545.77 L1278.65,545.94 L1280.43,546.11 L1282.22,546.28 L1284.01,546.43 L1285.79,546.58 L1287.58,546.73 L1289.36,546.87 L1291.15,547.00 L1292.94,547.13 L1294.72,547.26 L1296.51,547.38 L1298.29,547.49 L1300.08,547.60 L1301.87,547.71 L1303.65,547.81 L1305.44,547.91 L1307.22,548.01 L1309.01,548.10 L1310.79,548.19 L1312.58,548.27 L1314.37,548.36 L1316.15,548.43 L1317.94,548.51 L1319.72,548.58 L1321.51,548.65 L1323.30,548.72 L1325.08,548.79 L1326.87,548.85 L1328.65,548.91 L1330.44,548.97 L1332.23,549.03 L1334.01,549.08 L1335.80,549.14 L1337.58,549.19 L1339.37,549.24 L1341.16,549.28 L1342.94,549.33 L1344.73,549.37 L1346.51,549.42 L1348.30,549.46 L1350.08,549.50 L1351.87,549.53 L1353.66,549.57 L1355.44,549.61 L1357.23,549.64 L1359.01,549.67 L1360.80,549.71 L1366.05,549.79 L1371.29,549.87 L1376.54,549.95 L1381.78,550.01 L1387.03,550.07 L1392.27,550.12 L1397.52,550.17 L1402.76,550.21 L1408.01,550.25 L1413.26,550.29 L1418.50,550.32 L1423.75,550.35 L1428.99,550.38 L1434.24,550.41 L1439.48,550.43 L1444.73,550.45 L1449.98,550.47 L1455.22,550.49 L1460.47,550.50 L1465.71,550.52 L1470.96,550.53 L1476.20,550.54 L1481.45,550.55 L1486.69,550.56 L1491.94,550.57 L1497.19,550.58 L1502.43,550.59 L1507.68,550.60 L1512.92,550.60 L1518.17,550.61 L1523.41,550.62 L1528.66,550.62 L1533.90,550.63 L1539.15,550.63 L1544.40,550.63 L1549.64,550.64 L1554.89,550.64 L1560.13,550.65 L1565.38,550.65 L1570.62,550.65 L1575.87,550.65 L1581.12,550.66 L1586.36,550.66 L1591.61,550.66 L1596.85,550.66 L1602.10,550.67 L1607.34,550.67 L1612.59,550.67 L1617.83,550.67 L1623.08,550.67 L1628.33,550.67 L1633.57,550.67 L1638.82,550.68 L1644.06,550.68 L1649.31,550.68 L1654.55,550.68 L1659.80,550.68 L1665.04,550.68 L1670.29,550.68 L1675.54,550.68 L1680.78,550.68 L1686.03,550.68 L1691.27,550.68 L1696.52,550.68 L1701.76,550.68 L1707.01,550.69 L1712.26,550.69 L1717.50,550.69 L1722.75,550.69 L1727.99,550.69 L1733.24,550.69 L1738.48,550.69 L1743.73,550.69 L1748.97,550.69 L1754.22,550.69 L1759.47,550.69 L1764.71,550.69 L1769.96,550.69 L1775.20,550.69 L1780.45,550.69 L1785.69,550.69 L1790.94,550.69 L1796.18,550.69 L1801.43,550.69 L1806.68,550.69 L1811.92,550.69 L1817.17,550.69 L1822.41,550.69 L1827.66,550.69 L1832.90,550.69 L1838.15,550.69 L1843.40,550.69 L1848.64,550.69 L1853.89,550.69 L1859.13,550.69 L1864.38,550.69 L1869.62,550.69 L1874.87,550.69 L1880.11,550.69 L1885.36,550.69 L1890.61,550.69 L1895.85,550.69 L1901.10,550.69 L1906.34,550.69 L1911.59,550.69 L1916.83,550.69 L1922.08,550.69 L1927.32,550.69 L1932.57,550.69 L1937.82,550.69 L1943.06,550.69 L1948.31,550.69 L1953.55,550.69 L1958.80,550.69 L1964.04,550.69 L1969.29,550.69 L1974.54,550.69 L1979.78,550.69 L1985.03,550.69" stroke="#3f3f9f" stroke-width="4.7"/>
<path d="M1089.38,149.97 L1094.70,202.45 L1096.49,218.41 L1098.27,233.60 L1100.06,248.07 L1101.84,261.84 L1103.63,274.96 L1105.42,287.46 L1107.20,299.37 L1108.99,310.71 L1110.77,321.52 L1112.56,331.82 L1114.34,341.63 L1116.13,350.99 L1117.92,359.90 L1119.70,368.40 L1121.49,376.51 L1123.27,384.23 L1125.06,391.60 L1126.85,398.62 L1128.63,405.32 L1130.42,411.72 L1132.20,417.81 L1133.99,423.63 L1135.78,429.18 L1137.56,434.47 L1139.35,439.52 L1141.13,444.35 L1142.92,448.95 L1144.71,453.34 L1146.49,457.54 L1148.28,461.54 L1150.06,465.36 L1151.85,469.01 L1153.63,472.50 L1155.42,475.83 L1157.21,479.01 L1158.99,482.05 L1160.78,484.96 L1162.56,487.73 L1164.35,490.38 L1166.14,492.91 L1167.92,495.34 L1169.71,497.65 L1171.49,499.86 L1173.28,501.98 L1175.07,504.00 L1176.85,505.93 L1178.64,507.78 L1180.42,509.55 L1182.21,511.24 L1184.00,512.86 L1185.78,514.41 L1187.57,515.89 L1189.35,517.31 L1191.14,518.67 L1192.92,519.96 L1194.71,521.21 L1196.50,522.40 L1198.28,523.54 L1200.07,524.63 L1201.85,525.67 L1203.64,526.67 L1205.43,527.63 L1207.21,528.54 L1209.00,529.42 L1210.78,530.26 L1212.57,531.07 L1214.36,531.84 L1216.14,532.58 L1217.93,533.29 L1219.71,533.97 L1221.50,534.62 L1223.29,535.25 L1225.07,535.85 L1226.86,536.42 L1228.64,536.97 L1230.43,537.50 L1232.21,538.01 L1234.00,538.49 L1235.79,538.96 L1237.57,539.41 L1239.36,539.83 L1241.14,540.25 L1242.93,540.64 L1244.72,541.02 L1246.50,541.38 L1248.29,541.73 L1250.07,542.07 L1251.86,542.39 L1253.65,542.70 L1255.43,543.00 L1257.22,543.28 L1259.00,543.55 L1260.79,543.82 L1262.58,544.07 L1264.36,544.31 L1266.15,544.55 L1267.93,544.77 L1269.72,544.98 L1271.50,545.19 L1273.29,545.39 L1275.08,545.58 L1276.86,545.77 L1278.65,545.94 L1280.43,546.11 L1282.22,546.28 L1284.01,546.43 L1285.79,546.58 L1287.58,546.73 L1289.36,546.87 L1291.15,547.00 L1292.94,547.13 L1294.72,547.26 L1296.51,547.38 L1298.29,547.49 L1300.08,547.60 L1301.87,547.71 L1303.65,547.81 L1305.44,547.91 L1307.22,548.01 L1309.01,548.10 L1310.79,548.19 L1312.58,548.27 L1314.37,548.36 L1316.15,548.43 L1317.94,548.51 L1319.72,548.58 L1321.51,548.65 L1323.30,548.72 L1325.08,548.79 L1326.87,548.85 L1328.65,548.91 L1330.44,548.97 L1332.23,549.03 L1334.01,549.08 L1335.80,549.14 L1337.58,549.19 L1339.37,549.24 L1341.16,549.28 L1342.94,549.33 L1344.73,549.37 L1346.51,549.42 L1348.30,549.46 L1350.08,549.50 L1351.87,549.53 L1353.66,549.57 L1355.44,549.61 L1357.23,549.64 L1359.01,549.67 L1360.80,549.71 L1366.05,549.79 L1371.29,549.87 L1376.54,549.95 L1381.78,550.01 L1387.03,550.07 L1392.27,550.12 L1397.52,550.17 L1402.76,550.21 L1408.01,550.25 L1413.26,550.29 L1418.50,550.32 L1423.75,550.35 L1428.99,550.38 L1434.24,550.41 L1439.48,550.43 L1444.73,550.45 L1449.98,550.47 L1455.22,550.49 L1460.47,550.50 L1465.71,550.52 L1470.96,550.53 L1476.20,550.54 L1481.45,550.55 L1486.69,550.56 L1491.94,550.57 L1497.19,550.58 L1502.43,550.59 L1507.68,550.60 L1512.92,550.60 L1518.17,550.61 L1523.41,550.62 L1528.66,550.62 L1533.90,550.63 L1539.15,550.63 L1544.40,550.63 L1549.64,550.64 L1554.89,550.64 L1560.13,550.65 L1565.38,550.65 L1570.62,550.65 L1575.87,550.65 L1581.12,550.66 L1586.36,550.66 L1591.61,550.66 L1596.85,550.66 L1602.10,550.67 L1607.34,550.67 L1612.59,550.67 L1617.83,550.67 L1623.08,550.67 L1628.33,550.67 L1633.57,550.67 L1638.82,550.68 L1644.06,550.68 L1649.31,550.68 L1654.55,550.68 L1659.80,550.68 L1665.04,550.68 L1670.29,550.68 L1675.54,550.68 L1680.78,550.68 L1686.03,550.68 L1691.27,550.68 L1696.52,550.68 L1701.76,550.68 L1707.01,550.69 L1712.26,550.69 L1717.50,550.69 L1722.75,550.69 L1727.99,550.69 L1733.24,550.69 L1738.48,550.69 L1743.73,550.69 L1748.97,550.69 L1754.22,550.69 L1759.47,550.69 L1764.71,550.69 L1769.96,550.69 L1775.20,550.69 L1780.45,550.69 L1785.69,550.69 L1790.94,550.69 L1796.18,550.69 L1801.43,550.69 L1806.68,550.69 L1811.92,550.69 L1817.17,550.69 L1822.41,550.69 L1827.66,550.69 L1832.90,550.69 L1838.15,550.69 L1843.40,550.69 L1848.64,550.69 L1853.89,550.69 L1859.13,550.69 L1864.38,550.69 L1869.62,550.69 L1874.87,550.69 L1880.11,550.69 L1885.36,550.69 L1890.61,550.69 L1895.85,550.69 L1901.10,550.69 L1906.34,550.69 L1911.59,550.69 L1916.83,550.69 L1922.08,550.69 L1927.32,550.69 L1932.57,550.69 L1937.82,550.69 L1943.06,550.69 L1948.31,550.69 L1953.55,550.69 L1958.80,550.69 L1964.04,550.69 L1969.29,550.69 L1974.54,550.69 L1979.78,550.69 L1985.03,550.69" stroke="#ee1c25" stroke-width="2.2"/>
<path d="M1089.38,141.15 L1094.70,186.08 L1096.49,200.00 L1098.27,213.39 L1100.06,226.25 L1101.84,238.61 L1103.63,250.50 L1105.42,261.92 L1107.20,272.91 L1108.99,283.46 L1110.77,293.61 L1112.56,303.37 L1114.34,312.75 L1116.13,321.76 L1117.92,330.43 L1119.70,338.77 L1121.49,346.78 L1123.27,354.49 L1125.06,361.90 L1126.85,369.02 L1128.63,375.87 L1130.42,382.46 L1132.20,388.80 L1133.99,394.89 L1135.78,400.75 L1137.56,406.38 L1139.35,411.80 L1141.13,417.01 L1142.92,422.02 L1144.71,426.85 L1146.49,431.48 L1148.28,435.94 L1150.06,440.23 L1151.85,444.36 L1153.63,448.33 L1155.42,452.15 L1157.21,455.82 L1158.99,459.36 L1160.78,462.76 L1162.56,466.03 L1164.35,469.18 L1166.14,472.21 L1167.92,475.12 L1169.71,477.92 L1171.49,480.62 L1173.28,483.22 L1175.07,485.71 L1176.85,488.12 L1178.64,490.43 L1180.42,492.66 L1182.21,494.80 L1184.00,496.86 L1185.78,498.84 L1187.57,500.75 L1189.35,502.59 L1191.14,504.36 L1192.92,506.06 L1194.71,507.70 L1196.50,509.28 L1198.28,510.80 L1200.07,512.26 L1201.85,513.67 L1203.64,515.02 L1205.43,516.33 L1207.21,517.58 L1209.00,518.79 L1210.78,519.96 L1212.57,521.08 L1214.36,522.15 L1216.14,523.19 L1217.93,524.19 L1219.71,525.16 L1221.50,526.08 L1223.29,526.98 L1225.07,527.84 L1226.86,528.67 L1228.64,529.46 L1230.43,530.23 L1232.21,530.97 L1234.00,531.69 L1235.79,532.37 L1237.57,533.03 L1239.36,533.67 L1241.14,534.28 L1242.93,534.87 L1244.72,535.44 L1246.50,535.99 L1248.29,536.52 L1250.07,537.03 L1251.86,537.52 L1253.65,537.99 L1255.43,538.45 L1257.22,538.89 L1259.00,539.31 L1260.79,539.71 L1262.58,540.11 L1264.36,540.48 L1266.15,540.85 L1267.93,541.20 L1269.72,541.54 L1271.50,541.86 L1273.29,542.18 L1275.08,542.48 L1276.86,542.77 L1278.65,543.05 L1280.43,543.32 L1282.22,543.59 L1284.01,543.84 L1285.79,544.08 L1287.58,544.31 L1289.36,544.54 L1291.15,544.76 L1292.94,544.97 L1294.72,545.17 L1296.51,545.36 L1298.29,545.55 L1300.08,545.73 L1301.87,545.91 L1303.65,546.07 L1305.44,546.24 L1307.22,546.39 L1309.01,546.54 L1310.79,546.69 L1312.58,546.83 L1314.37,546.96 L1316.15,547.09 L1317.94,547.22 L1319.72,547.34 L1321.51,547.46 L1323.30,547.57 L1325.08,547.68 L1326.87,547.78 L1328.65,547.89 L1330.44,547.98 L1332.23,548.08 L1334.01,548.17 L1335.80,548.26 L1337.58,548.34 L1339.37,548.42 L1341.16,548.50 L1342.94,548.58 L1344.73,548.65 L1346.51,548.72 L1348.30,548.79 L1350.08,548.85 L1351.87,548.92 L1353.66,548.98 L1355.44,549.04 L1357.23,549.09 L1359.01,549.15 L1360.80,549.20 L1366.05,549.35 L1371.29,549.48 L1376.54,549.60 L1381.78,549.70 L1387.03,549.80 L1392.27,549.89 L1397.52,549.96 L1402.76,550.03 L1408.01,550.10 L1413.26,550.15 L1418.50,550.21 L1423.75,550.25 L1428.99,550.30 L1434.24,550.33 L1439.48,550.37 L1444.73,550.40 L1449.98,550.43 L1455.22,550.45 L1460.47,550.48 L1465.71,550.50 L1470.96,550.52 L1476.20,550.53 L1481.45,550.55 L1486.69,550.56 L1491.94,550.57 L1497.19,550.59 L1502.43,550.60 L1507.68,550.61 L1512.92,550.61 L1518.17,550.62 L1523.41,550.63 L1528.66,550.64 L1533.90,550.64 L1539.15,550.65 L1544.40,550.65 L1549.64,550.66 L1554.89,550.66 L1560.13,550.66 L1565.38,550.67 L1570.62,550.67 L1575.87,550.67 L1581.12,550.67 L1586.36,550.68 L1591.61,550.68 L1596.85,550.68 L1602.10,550.68 L1607.34,550.68 L1612.59,550.69 L1617.83,550.69 L1623.08,550.69 L1628.33,550.69 L1633.57,550.69 L1638.82,550.69 L1644.06,550.69 L1649.31,550.69 L1654.55,550.69 L1659.80,550.69 L1665.04,550.69 L1670.29,550.69 L1675.54,550.70 L1680.78,550.70 L1686.03,550.70 L1691.27,550.70 L1696.52,550.70 L1701.76,550.70 L1707.01,550.70 L1712.26,550.70 L1717.50,550.70 L1722.75,550.70 L1727.99,550.70 L1733.24,550.70 L1738.48,550.70 L1743.73,550.70 L1748.97,550.70 L1754.22,550.70 L1759.47,550.70 L1764.71,550.70 L1769.96,550.70 L1775.20,550.70 L1780.45,550.70 L1785.69,550.70 L1790.94,550.70 L1796.18,550.70 L1801.43,550.70 L1806.68,550.70 L1811.92,550.70 L1817.17,550.70 L1822.41,550.70 L1827.66,550.70 L1832.90,550.70 L1838.15,550.70 L1843.40,550.70 L1848.64,550.70 L1853.89,550.70 L1859.13,550.70 L1864.38,550.70 L1869.62,550.70 L1874.87,550.70 L1880.11,550.70 L1885.36,550.70 L1890.61,550.70 L1895.85,550.70 L1901.10,550.70 L1906.34,550.70 L1911.59,550.70 L1916.83,550.70 L1922.08,550.70 L1927.32,550.70 L1932.57,550.70 L1937.82,550.70 L1943.06,550.70 L1948.31,550.70 L1953.55,550.70 L1958.80,550.70 L1964.04,550.70 L1969.29,550.70 L1974.54,550.70 L1979.78,550.70 L1985.03,550.70" stroke="#3f3f9f" stroke-width="4.7"/>
<path d="M1089.38,141.15 L1094.70,186.08 L1096.49,200.00 L1098.27,213.39 L1100.06,226.25 L1101.84,238.61 L1103.63,250.50 L1105.42,261.92 L1107.20,272.91 L1108.99,283.46 L1110.77,293.61 L1112.56,303.37 L1114.34,312.75 L1116.13,321.76 L1117.92,330.43 L1119.70,338.77 L1121.49,346.78 L1123.27,354.49 L1125.06,361.90 L1126.85,369.02 L1128.63,375.87 L1130.42,382.46 L1132.20,388.80 L1133.99,394.89 L1135.78,400.75 L1137.56,406.38 L1139.35,411.80 L1141.13,417.01 L1142.92,422.02 L1144.71,426.85 L1146.49,431.48 L1148.28,435.94 L1150.06,440.23 L1151.85,444.36 L1153.63,448.33 L1155.42,452.15 L1157.21,455.82 L1158.99,459.36 L1160.78,462.76 L1162.56,466.03 L1164.35,469.18 L1166.14,472.21 L1167.92,475.12 L1169.71,477.92 L1171.49,480.62 L1173.28,483.22 L1175.07,485.71 L1176.85,488.12 L1178.64,490.43 L1180.42,492.66 L1182.21,494.80 L1184.00,496.86 L1185.78,498.84 L1187.57,500.75 L1189.35,502.59 L1191.14,504.36 L1192.92,506.06 L1194.71,507.70 L1196.50,509.28 L1198.28,510.80 L1200.07,512.26 L1201.85,513.67 L1203.64,515.02 L1205.43,516.33 L1207.21,517.58 L1209.00,518.79 L1210.78,519.96 L1212.57,521.08 L1214.36,522.15 L1216.14,523.19 L1217.93,524.19 L1219.71,525.16 L1221.50,526.08 L1223.29,526.98 L1225.07,527.84 L1226.86,528.67 L1228.64,529.46 L1230.43,530.23 L1232.21,530.97 L1234.00,531.69 L1235.79,532.37 L1237.57,533.03 L1239.36,533.67 L1241.14,534.28 L1242.93,534.87 L1244.72,535.44 L1246.50,535.99 L1248.29,536.52 L1250.07,537.03 L1251.86,537.52 L1253.65,537.99 L1255.43,538.45 L1257.22,538.89 L1259.00,539.31 L1260.79,539.71 L1262.58,540.11 L1264.36,540.48 L1266.15,540.85 L1267.93,541.20 L1269.72,541.54 L1271.50,541.86 L1273.29,542.18 L1275.08,542.48 L1276.86,542.77 L1278.65,543.05 L1280.43,543.32 L1282.22,543.59 L1284.01,543.84 L1285.79,544.08 L1287.58,544.31 L1289.36,544.54 L1291.15,544.76 L1292.94,544.97 L1294.72,545.17 L1296.51,545.36 L1298.29,545.55 L1300.08,545.73 L1301.87,545.91 L1303.65,546.07 L1305.44,546.24 L1307.22,546.39 L1309.01,546.54 L1310.79,546.69 L1312.58,546.83 L1314.37,546.96 L1316.15,547.09 L1317.94,547.22 L1319.72,547.34 L1321.51,547.46 L1323.30,547.57 L1325.08,547.68 L1326.87,547.78 L1328.65,547.89 L1330.44,547.98 L1332.23,548.08 L1334.01,548.17 L1335.80,548.26 L1337.58,548.34 L1339.37,548.42 L1341.16,548.50 L1342.94,548.58 L1344.73,548.65 L1346.51,548.72 L1348.30,548.79 L1350.08,548.85 L1351.87,548.92 L1353.66,548.98 L1355.44,549.04 L1357.23,549.09 L1359.01,549.15 L1360.80,549.20 L1366.05,549.35 L1371.29,549.48 L1376.54,549.60 L1381.78,549.70 L1387.03,549.80 L1392.27,549.89 L1397.52,549.96 L1402.76,550.03 L1408.01,550.10 L1413.26,550.15 L1418.50,550.21 L1423.75,550.25 L1428.99,550.30 L1434.24,550.33 L1439.48,550.37 L1444.73,550.40 L1449.98,550.43 L1455.22,550.45 L1460.47,550.48 L1465.71,550.50 L1470.96,550.52 L1476.20,550.53 L1481.45,550.55 L1486.69,550.56 L1491.94,550.57 L1497.19,550.59 L1502.43,550.60 L1507.68,550.61 L1512.92,550.61 L1518.17,550.62 L1523.41,550.63 L1528.66,550.64 L1533.90,550.64 L1539.15,550.65 L1544.40,550.65 L1549.64,550.66 L1554.89,550.66 L1560.13,550.66 L1565.38,550.67 L1570.62,550.67 L1575.87,550.67 L1581.12,550.67 L1586.36,550.68 L1591.61,550.68 L1596.85,550.68 L1602.10,550.68 L1607.34,550.68 L1612.59,550.69 L1617.83,550.69 L1623.08,550.69 L1628.33,550.69 L1633.57,550.69 L1638.82,550.69 L1644.06,550.69 L1649.31,550.69 L1654.55,550.69 L1659.80,550.69 L1665.04,550.69 L1670.29,550.69 L1675.54,550.70 L1680.78,550.70 L1686.03,550.70 L1691.27,550.70 L1696.52,550.70 L1701.76,550.70 L1707.01,550.70 L1712.26,550.70 L1717.50,550.70 L1722.75,550.70 L1727.99,550.70 L1733.24,550.70 L1738.48,550.70 L1743.73,550.70 L1748.97,550.70 L1754.22,550.70 L1759.47,550.70 L1764.71,550.70 L1769.96,550.70 L1775.20,550.70 L1780.45,550.70 L1785.69,550.70 L1790.94,550.70 L1796.18,550.70 L1801.43,550.70 L1806.68,550.70 L1811.92,550.70 L1817.17,550.70 L1822.41,550.70 L1827.66,550.70 L1832.90,550.70 L1838.15,550.70 L1843.40,550.70 L1848.64,550.70 L1853.89,550.70 L1859.13,550.70 L1864.38,550.70 L1869.62,550.70 L1874.87,550.70 L1880.11,550.70 L1885.36,550.70 L1890.61,550.70 L1895.85,550.70 L1901.10,550.70 L1906.34,550.70 L1911.59,550.70 L1916.83,550.70 L1922.08,550.70 L1927.32,550.70 L1932.57,550.70 L1937.82,550.70 L1943.06,550.70 L1948.31,550.70 L1953.55,550.70 L1958.80,550.70 L1964.04,550.70 L1969.29,550.70 L1974.54,550.70 L1979.78,550.70 L1985.03,550.70" stroke="#ee1c25" stroke-width="2.2"/>
<path d="M1089.38,31.01 L1094.70,60.64 L1096.49,70.18 L1098.27,79.54 L1100.06,88.70 L1101.84,97.68 L1103.63,106.47 L1105.42,115.09 L1107.20,123.54 L1108.99,131.82 L1110.77,139.93 L1112.56,147.87 L1114.34,155.66 L1116.13,163.29 L1117.92,170.77 L1119.70,178.10 L1121.49,185.28 L1123.27,192.32 L1125.06,199.21 L1126.85,205.97 L1128.63,212.60 L1130.42,219.09 L1132.20,225.45 L1133.99,231.68 L1135.78,237.79 L1137.56,243.78 L1139.35,249.65 L1141.13,255.41 L1142.92,261.05 L1144.71,266.57 L1146.49,271.99 L1148.28,277.30 L1150.06,282.51 L1151.85,287.61 L1153.63,292.61 L1155.42,297.51 L1157.21,302.32 L1158.99,307.03 L1160.78,311.65 L1162.56,316.17 L1164.35,320.61 L1166.14,324.96 L1167.92,329.22 L1169.71,333.41 L1171.49,337.50 L1173.28,341.52 L1175.07,345.46 L1176.85,349.32 L1178.64,353.11 L1180.42,356.82 L1182.21,360.46 L1184.00,364.03 L1185.78,367.53 L1187.57,370.96 L1189.35,374.33 L1191.14,377.62 L1192.92,380.86 L1194.71,384.03 L1196.50,387.14 L1198.28,390.19 L1200.07,393.18 L1201.85,396.11 L1203.64,398.98 L1205.43,401.80 L1207.21,404.57 L1209.00,407.28 L1210.78,409.94 L1212.57,412.55 L1214.36,415.10 L1216.14,417.61 L1217.93,420.07 L1219.71,422.48 L1221.50,424.85 L1223.29,427.17 L1225.07,429.45 L1226.86,431.68 L1228.64,433.87 L1230.43,436.01 L1232.21,438.12 L1234.00,440.19 L1235.79,442.21 L1237.57,444.20 L1239.36,446.15 L1241.14,448.06 L1242.93,449.94 L1244.72,451.78 L1246.50,453.58 L1248.29,455.35 L1250.07,457.09 L1251.86,458.79 L1253.65,460.47 L1255.43,462.11 L1257.22,463.71 L1259.00,465.29 L1260.79,466.84 L1262.58,468.36 L1264.36,469.85 L1266.15,471.31 L1267.93,472.75 L1269.72,474.15 L1271.50,475.53 L1273.29,476.89 L1275.08,478.22 L1276.86,479.52 L1278.65,480.80 L1280.43,482.06 L1282.22,483.29 L1284.01,484.50 L1285.79,485.69 L1287.58,486.85 L1289.36,487.99 L1291.15,489.12 L1292.94,490.22 L1294.72,491.30 L1296.51,492.35 L1298.29,493.39 L1300.08,494.41 L1301.87,495.42 L1303.65,496.40 L1305.44,497.36 L1307.22,498.31 L1309.01,499.24 L1310.79,500.15 L1312.58,501.05 L1314.37,501.92 L1316.15,502.79 L1317.94,503.63 L1319.72,504.46 L1321.51,505.28 L1323.30,506.08 L1325.08,506.86 L1326.87,507.63 L1328.65,508.39 L1330.44,509.13 L1332.23,509.86 L1334.01,510.58 L1335.80,511.28 L1337.58,511.97 L1339.37,512.65 L1341.16,513.31 L1342.94,513.97 L1344.73,514.61 L1346.51,515.24 L1348.30,515.85 L1350.08,516.46 L1351.87,517.05 L1353.66,517.64 L1355.44,518.21 L1357.23,518.77 L1359.01,519.33 L1360.80,519.87 L1366.05,521.41 L1371.29,522.87 L1376.54,524.25 L1381.78,525.56 L1387.03,526.80 L1392.27,527.98 L1397.52,529.10 L1402.76,530.16 L1408.01,531.16 L1413.26,532.12 L1418.50,533.02 L1423.75,533.88 L1428.99,534.69 L1434.24,535.47 L1439.48,536.20 L1444.73,536.90 L1449.98,537.56 L1455.22,538.19 L1460.47,538.78 L1465.71,539.35 L1470.96,539.89 L1476.20,540.40 L1481.45,540.89 L1486.69,541.35 L1491.94,541.79 L1497.19,542.21 L1502.43,542.60 L1507.68,542.98 L1512.92,543.34 L1518.17,543.68 L1523.41,544.00 L1528.66,544.31 L1533.90,544.61 L1539.15,544.89 L1544.40,545.15 L1549.64,545.41 L1554.89,545.65 L1560.13,545.88 L1565.38,546.09 L1570.62,546.30 L1575.87,546.50 L1581.12,546.69 L1586.36,546.87 L1591.61,547.04 L1596.85,547.20 L1602.10,547.36 L1607.34,547.50 L1612.59,547.65 L1617.83,547.78 L1623.08,547.91 L1628.33,548.03 L1633.57,548.15 L1638.82,548.26 L1644.06,548.36 L1649.31,548.46 L1654.55,548.56 L1659.80,548.65 L1665.04,548.74 L1670.29,548.82 L1675.54,548.90 L1680.78,548.98 L1686.03,549.05 L1691.27,549.12 L1696.52,549.19 L1701.76,549.25 L1707.01,549.31 L1712.26,549.37 L1717.50,549.43 L1722.75,549.48 L1727.99,549.53 L1733.24,549.58 L1738.48,549.63 L1743.73,549.67 L1748.97,549.71 L1754.22,549.75 L1759.47,549.79 L1764.71,549.83 L1769.96,549.86 L1775.20,549.90 L1780.45,549.93 L1785.69,549.96 L1790.94,549.99 L1796.18,550.02 L1801.43,550.04 L1806.68,550.07 L1811.92,550.10 L1817.17,550.12 L1822.41,550.14 L1827.66,550.16 L1832.90,550.18 L1838.15,550.20 L1843.40,550.22 L1848.64,550.24 L1853.89,550.26 L1859.13,550.28 L1864.38,550.29 L1869.62,550.31 L1874.87,550.32 L1880.11,550.34 L1885.36,550.35 L1890.61,550.36 L1895.85,550.38 L1901.10,550.39 L1906.34,550.40 L1911.59,550.41 L1916.83,550.42 L1922.08,550.43 L1927.32,550.44 L1932.57,550.45 L1937.82,550.46 L1943.06,550.47 L1948.31,550.48 L1953.55,550.49 L1958.80,550.49 L1964.04,550.50 L1969.29,550.51 L1974.54,550.51 L1979.78,550.52 L1985.03,550.53" stroke="#3f3f9f" stroke-width="4.7"/>
<path d="M1089.38,31.01 L1094.70,60.64 L1096.49,70.18 L1098.27,79.54 L1100.06,88.70 L1101.84,97.68 L1103.63,106.47 L1105.42,115.09 L1107.20,123.54 L1108.99,131.82 L1110.77,139.93 L1112.56,147.87 L1114.34,155.66 L1116.13,163.29 L1117.92,170.77 L1119.70,178.10 L1121.49,185.28 L1123.27,192.32 L1125.06,199.21 L1126.85,205.97 L1128.63,212.60 L1130.42,219.09 L1132.20,225.45 L1133.99,231.68 L1135.78,237.79 L1137.56,243.78 L1139.35,249.65 L1141.13,255.41 L1142.92,261.05 L1144.71,266.57 L1146.49,271.99 L1148.28,277.30 L1150.06,282.51 L1151.85,287.61 L1153.63,292.61 L1155.42,297.51 L1157.21,302.32 L1158.99,307.03 L1160.78,311.65 L1162.56,316.17 L1164.35,320.61 L1166.14,324.96 L1167.92,329.22 L1169.71,333.41 L1171.49,337.50 L1173.28,341.52 L1175.07,345.46 L1176.85,349.32 L1178.64,353.11 L1180.42,356.82 L1182.21,360.46 L1184.00,364.03 L1185.78,367.53 L1187.57,370.96 L1189.35,374.33 L1191.14,377.62 L1192.92,380.86 L1194.71,384.03 L1196.50,387.14 L1198.28,390.19 L1200.07,393.18 L1201.85,396.11 L1203.64,398.98 L1205.43,401.80 L1207.21,404.57 L1209.00,407.28 L1210.78,409.94 L1212.57,412.55 L1214.36,415.10 L1216.14,417.61 L1217.93,420.07 L1219.71,422.48 L1221.50,424.85 L1223.29,427.17 L1225.07,429.45 L1226.86,431.68 L1228.64,433.87 L1230.43,436.01 L1232.21,438.12 L1234.00,440.19 L1235.79,442.21 L1237.57,444.20 L1239.36,446.15 L1241.14,448.06 L1242.93,449.94 L1244.72,451.78 L1246.50,453.58 L1248.29,455.35 L1250.07,457.09 L1251.86,458.79 L1253.65,460.47 L1255.43,462.11 L1257.22,463.71 L1259.00,465.29 L1260.79,466.84 L1262.58,468.36 L1264.36,469.85 L1266.15,471.31 L1267.93,472.75 L1269.72,474.15 L1271.50,475.53 L1273.29,476.89 L1275.08,478.22 L1276.86,479.52 L1278.65,480.80 L1280.43,482.06 L1282.22,483.29 L1284.01,484.50 L1285.79,485.69 L1287.58,486.85 L1289.36,487.99 L1291.15,489.12 L1292.94,490.22 L1294.72,491.30 L1296.51,492.35 L1298.29,493.39 L1300.08,494.41 L1301.87,495.42 L1303.65,496.40 L1305.44,497.36 L1307.22,498.31 L1309.01,499.24 L1310.79,500.15 L1312.58,501.05 L1314.37,501.92 L1316.15,502.79 L1317.94,503.63 L1319.72,504.46 L1321.51,505.28 L1323.30,506.08 L1325.08,506.86 L1326.87,507.63 L1328.65,508.39 L1330.44,509.13 L1332.23,509.86 L1334.01,510.58 L1335.80,511.28 L1337.58,511.97 L1339.37,512.65 L1341.16,513.31 L1342.94,513.97 L1344.73,514.61 L1346.51,515.24 L1348.30,515.85 L1350.08,516.46 L1351.87,517.05 L1353.66,517.64 L1355.44,518.21 L1357.23,518.77 L1359.01,519.33 L1360.80,519.87 L1366.05,521.41 L1371.29,522.87 L1376.54,524.25 L1381.78,525.56 L1387.03,526.80 L1392.27,527.98 L1397.52,529.10 L1402.76,530.16 L1408.01,531.16 L1413.26,532.12 L1418.50,533.02 L1423.75,533.88 L1428.99,534.69 L1434.24,535.47 L1439.48,536.20 L1444.73,536.90 L1449.98,537.56 L1455.22,538.19 L1460.47,538.78 L1465.71,539.35 L1470.96,539.89 L1476.20,540.40 L1481.45,540.89 L1486.69,541.35 L1491.94,541.79 L1497.19,542.21 L1502.43,542.60 L1507.68,542.98 L1512.92,543.34 L1518.17,543.68 L1523.41,544.00 L1528.66,544.31 L1533.90,544.61 L1539.15,544.89 L1544.40,545.15 L1549.64,545.41 L1554.89,545.65 L1560.13,545.88 L1565.38,546.09 L1570.62,546.30 L1575.87,546.50 L1581.12,546.69 L1586.36,546.87 L1591.61,547.04 L1596.85,547.20 L1602.10,547.36 L1607.34,547.50 L1612.59,547.65 L1617.83,547.78 L1623.08,547.91 L1628.33,548.03 L1633.57,548.15 L1638.82,548.26 L1644.06,548.36 L1649.31,548.46 L1654.55,548.56 L1659.80,548.65 L1665.04,548.74 L1670.29,548.82 L1675.54,548.90 L1680.78,548.98 L1686.03,549.05 L1691.27,549.12 L1696.52,549.19 L1701.76,549.25 L1707.01,549.31 L1712.26,549.37 L1717.50,549.43 L1722.75,549.48 L1727.99,549.53 L1733.24,549.58 L1738.48,549.63 L1743.73,549.67 L1748.97,549.71 L1754.22,549.75 L1759.47,549.79 L1764.71,549.83 L1769.96,549.86 L1775.20,549.90 L1780.45,549.93 L1785.69,549.96 L1790.94,549.99 L1796.18,550.02 L1801.43,550.04 L1806.68,550.07 L1811.92,550.10 L1817.17,550.12 L1822.41,550.14 L1827.66,550.16 L1832.90,550.18 L1838.15,550.20 L1843.40,550.22 L1848.64,550.24 L1853.89,550.26 L1859.13,550.28 L1864.38,550.29 L1869.62,550.31 L1874.87,550.32 L1880.11,550.34 L1885.36,550.35 L1890.61,550.36 L1895.85,550.38 L1901.10,550.39 L1906.34,550.40 L1911.59,550.41 L1916.83,550.42 L1922.08,550.43 L1927.32,550.44 L1932.57,550.45 L1937.82,550.46 L1943.06,550.47 L1948.31,550.48 L1953.55,550.49 L1958.80,550.49 L1964.04,550.50 L1969.29,550.51 L1974.54,550.51 L1979.78,550.52 L1985.03,550.53" stroke="#5fcfe3" stroke-width="2.2"/>
<path d="M1089.38,15.90 L1094.70,43.31 L1096.49,52.18 L1098.27,60.89 L1100.06,69.43 L1101.84,77.82 L1103.63,86.06 L1105.42,94.15 L1107.20,102.09 L1108.99,109.89 L1110.77,117.55 L1112.56,125.06 L1114.34,132.44 L1116.13,139.69 L1117.92,146.81 L1119.70,153.80 L1121.49,160.66 L1123.27,167.40 L1125.06,174.01 L1126.85,180.51 L1128.63,186.89 L1130.42,193.15 L1132.20,199.31 L1133.99,205.35 L1135.78,211.28 L1137.56,217.11 L1139.35,222.83 L1141.13,228.45 L1142.92,233.97 L1144.71,239.39 L1146.49,244.71 L1148.28,249.94 L1150.06,255.07 L1151.85,260.12 L1153.63,265.07 L1155.42,269.94 L1157.21,274.71 L1158.99,279.41 L1160.78,284.02 L1162.56,288.54 L1164.35,292.99 L1166.14,297.36 L1167.92,301.65 L1169.71,305.87 L1171.49,310.01 L1173.28,314.07 L1175.07,318.07 L1176.85,321.99 L1178.64,325.85 L1180.42,329.64 L1182.21,333.36 L1184.00,337.01 L1185.78,340.60 L1187.57,344.13 L1189.35,347.60 L1191.14,351.00 L1192.92,354.35 L1194.71,357.63 L1196.50,360.86 L1198.28,364.03 L1200.07,367.15 L1201.85,370.21 L1203.64,373.22 L1205.43,376.18 L1207.21,379.08 L1209.00,381.93 L1210.78,384.74 L1212.57,387.49 L1214.36,390.20 L1216.14,392.86 L1217.93,395.48 L1219.71,398.04 L1221.50,400.57 L1223.29,403.05 L1225.07,405.49 L1226.86,407.88 L1228.64,410.23 L1230.43,412.55 L1232.21,414.82 L1234.00,417.06 L1235.79,419.25 L1237.57,421.41 L1239.36,423.53 L1241.14,425.61 L1242.93,427.66 L1244.72,429.67 L1246.50,431.65 L1248.29,433.60 L1250.07,435.51 L1251.86,437.39 L1253.65,439.23 L1255.43,441.05 L1257.22,442.83 L1259.00,444.58 L1260.79,446.31 L1262.58,448.00 L1264.36,449.66 L1266.15,451.30 L1267.93,452.91 L1269.72,454.49 L1271.50,456.05 L1273.29,457.57 L1275.08,459.08 L1276.86,460.55 L1278.65,462.00 L1280.43,463.43 L1282.22,464.83 L1284.01,466.21 L1285.79,467.57 L1287.58,468.90 L1289.36,470.21 L1291.15,471.50 L1292.94,472.77 L1294.72,474.01 L1296.51,475.24 L1298.29,476.44 L1300.08,477.63 L1301.87,478.79 L1303.65,479.94 L1305.44,481.06 L1307.22,482.17 L1309.01,483.26 L1310.79,484.33 L1312.58,485.38 L1314.37,486.41 L1316.15,487.43 L1317.94,488.43 L1319.72,489.41 L1321.51,490.38 L1323.30,491.33 L1325.08,492.27 L1326.87,493.19 L1328.65,494.09 L1330.44,494.98 L1332.23,495.85 L1334.01,496.72 L1335.80,497.56 L1337.58,498.39 L1339.37,499.21 L1341.16,500.02 L1342.94,500.81 L1344.73,501.59 L1346.51,502.35 L1348.30,503.11 L1350.08,503.85 L1351.87,504.58 L1353.66,505.29 L1355.44,506.00 L1357.23,506.69 L1359.01,507.37 L1360.80,508.04 L1366.05,509.95 L1371.29,511.77 L1376.54,513.50 L1381.78,515.15 L1387.03,516.73 L1392.27,518.23 L1397.52,519.66 L1402.76,521.02 L1408.01,522.32 L1413.26,523.56 L1418.50,524.75 L1423.75,525.87 L1428.99,526.95 L1434.24,527.98 L1439.48,528.96 L1444.73,529.89 L1449.98,530.79 L1455.22,531.64 L1460.47,532.45 L1465.71,533.23 L1470.96,533.97 L1476.20,534.68 L1481.45,535.36 L1486.69,536.00 L1491.94,536.62 L1497.19,537.21 L1502.43,537.78 L1507.68,538.31 L1512.92,538.83 L1518.17,539.32 L1523.41,539.79 L1528.66,540.24 L1533.90,540.67 L1539.15,541.08 L1544.40,541.48 L1549.64,541.85 L1554.89,542.21 L1560.13,542.56 L1565.38,542.88 L1570.62,543.20 L1575.87,543.50 L1581.12,543.79 L1586.36,544.07 L1591.61,544.33 L1596.85,544.58 L1602.10,544.83 L1607.34,545.06 L1612.59,545.28 L1617.83,545.49 L1623.08,545.70 L1628.33,545.89 L1633.57,546.08 L1638.82,546.26 L1644.06,546.43 L1649.31,546.60 L1654.55,546.76 L1659.80,546.91 L1665.04,547.05 L1670.29,547.19 L1675.54,547.32 L1680.78,547.45 L1686.03,547.58 L1691.27,547.69 L1696.52,547.81 L1701.76,547.91 L1707.01,548.02 L1712.26,548.12 L1717.50,548.21 L1722.75,548.31 L1727.99,548.39 L1733.24,548.48 L1738.48,548.56 L1743.73,548.64 L1748.97,548.71 L1754.22,548.79 L1759.47,548.86 L1764.71,548.92 L1769.96,548.99 L1775.20,549.05 L1780.45,549.11 L1785.69,549.16 L1790.94,549.22 L1796.18,549.27 L1801.43,549.32 L1806.68,549.37 L1811.92,549.42 L1817.17,549.46 L1822.41,549.50 L1827.66,549.55 L1832.90,549.59 L1838.15,549.62 L1843.40,549.66 L1848.64,549.70 L1853.89,549.73 L1859.13,549.76 L1864.38,549.80 L1869.62,549.83 L1874.87,549.86 L1880.11,549.88 L1885.36,549.91 L1890.61,549.94 L1895.85,549.96 L1901.10,549.99 L1906.34,550.01 L1911.59,550.03 L1916.83,550.06 L1922.08,550.08 L1927.32,550.10 L1932.57,550.12 L1937.82,550.14 L1943.06,550.15 L1948.31,550.17 L1953.55,550.19 L1958.80,550.20 L1964.04,550.22 L1969.29,550.24 L1974.54,550.25 L1979.78,550.26 L1985.03,550.28" stroke="#3f3f9f" stroke-width="4.7"/>
<path d="M1089.38,15.90 L1094.70,43.31 L1096.49,52.18 L1098.27,60.89 L1100.06,69.43 L1101.84,77.82 L1103.63,86.06 L1105.42,94.15 L1107.20,102.09 L1108.99,109.89 L1110.77,117.55 L1112.56,125.06 L1114.34,132.44 L1116.13,139.69 L1117.92,146.81 L1119.70,153.80 L1121.49,160.66 L1123.27,167.40 L1125.06,174.01 L1126.85,180.51 L1128.63,186.89 L1130.42,193.15 L1132.20,199.31 L1133.99,205.35 L1135.78,211.28 L1137.56,217.11 L1139.35,222.83 L1141.13,228.45 L1142.92,233.97 L1144.71,239.39 L1146.49,244.71 L1148.28,249.94 L1150.06,255.07 L1151.85,260.12 L1153.63,265.07 L1155.42,269.94 L1157.21,274.71 L1158.99,279.41 L1160.78,284.02 L1162.56,288.54 L1164.35,292.99 L1166.14,297.36 L1167.92,301.65 L1169.71,305.87 L1171.49,310.01 L1173.28,314.07 L1175.07,318.07 L1176.85,321.99 L1178.64,325.85 L1180.42,329.64 L1182.21,333.36 L1184.00,337.01 L1185.78,340.60 L1187.57,344.13 L1189.35,347.60 L1191.14,351.00 L1192.92,354.35 L1194.71,357.63 L1196.50,360.86 L1198.28,364.03 L1200.07,367.15 L1201.85,370.21 L1203.64,373.22 L1205.43,376.18 L1207.21,379.08 L1209.00,381.93 L1210.78,384.74 L1212.57,387.49 L1214.36,390.20 L1216.14,392.86 L1217.93,395.48 L1219.71,398.04 L1221.50,400.57 L1223.29,403.05 L1225.07,405.49 L1226.86,407.88 L1228.64,410.23 L1230.43,412.55 L1232.21,414.82 L1234.00,417.06 L1235.79,419.25 L1237.57,421.41 L1239.36,423.53 L1241.14,425.61 L1242.93,427.66 L1244.72,429.67 L1246.50,431.65 L1248.29,433.60 L1250.07,435.51 L1251.86,437.39 L1253.65,439.23 L1255.43,441.05 L1257.22,442.83 L1259.00,444.58 L1260.79,446.31 L1262.58,448.00 L1264.36,449.66 L1266.15,451.30 L1267.93,452.91 L1269.72,454.49 L1271.50,456.05 L1273.29,457.57 L1275.08,459.08 L1276.86,460.55 L1278.65,462.00 L1280.43,463.43 L1282.22,464.83 L1284.01,466.21 L1285.79,467.57 L1287.58,468.90 L1289.36,470.21 L1291.15,471.50 L1292.94,472.77 L1294.72,474.01 L1296.51,475.24 L1298.29,476.44 L1300.08,477.63 L1301.87,478.79 L1303.65,479.94 L1305.44,481.06 L1307.22,482.17 L1309.01,483.26 L1310.79,484.33 L1312.58,485.38 L1314.37,486.41 L1316.15,487.43 L1317.94,488.43 L1319.72,489.41 L1321.51,490.38 L1323.30,491.33 L1325.08,492.27 L1326.87,493.19 L1328.65,494.09 L1330.44,494.98 L1332.23,495.85 L1334.01,496.72 L1335.80,497.56 L1337.58,498.39 L1339.37,499.21 L1341.16,500.02 L1342.94,500.81 L1344.73,501.59 L1346.51,502.35 L1348.30,503.11 L1350.08,503.85 L1351.87,504.58 L1353.66,505.29 L1355.44,506.00 L1357.23,506.69 L1359.01,507.37 L1360.80,508.04 L1366.05,509.95 L1371.29,511.77 L1376.54,513.50 L1381.78,515.15 L1387.03,516.73 L1392.27,518.23 L1397.52,519.66 L1402.76,521.02 L1408.01,522.32 L1413.26,523.56 L1418.50,524.75 L1423.75,525.87 L1428.99,526.95 L1434.24,527.98 L1439.48,528.96 L1444.73,529.89 L1449.98,530.79 L1455.22,531.64 L1460.47,532.45 L1465.71,533.23 L1470.96,533.97 L1476.20,534.68 L1481.45,535.36 L1486.69,536.00 L1491.94,536.62 L1497.19,537.21 L1502.43,537.78 L1507.68,538.31 L1512.92,538.83 L1518.17,539.32 L1523.41,539.79 L1528.66,540.24 L1533.90,540.67 L1539.15,541.08 L1544.40,541.48 L1549.64,541.85 L1554.89,542.21 L1560.13,542.56 L1565.38,542.88 L1570.62,543.20 L1575.87,543.50 L1581.12,543.79 L1586.36,544.07 L1591.61,544.33 L1596.85,544.58 L1602.10,544.83 L1607.34,545.06 L1612.59,545.28 L1617.83,545.49 L1623.08,545.70 L1628.33,545.89 L1633.57,546.08 L1638.82,546.26 L1644.06,546.43 L1649.31,546.60 L1654.55,546.76 L1659.80,546.91 L1665.04,547.05 L1670.29,547.19 L1675.54,547.32 L1680.78,547.45 L1686.03,547.58 L1691.27,547.69 L1696.52,547.81 L1701.76,547.91 L1707.01,548.02 L1712.26,548.12 L1717.50,548.21 L1722.75,548.31 L1727.99,548.39 L1733.24,548.48 L1738.48,548.56 L1743.73,548.64 L1748.97,548.71 L1754.22,548.79 L1759.47,548.86 L1764.71,548.92 L1769.96,548.99 L1775.20,549.05 L1780.45,549.11 L1785.69,549.16 L1790.94,549.22 L1796.18,549.27 L1801.43,549.32 L1806.68,549.37 L1811.92,549.42 L1817.17,549.46 L1822.41,549.50 L1827.66,549.55 L1832.90,549.59 L1838.15,549.62 L1843.40,549.66 L1848.64,549.70 L1853.89,549.73 L1859.13,549.76 L1864.38,549.80 L1869.62,549.83 L1874.87,549.86 L1880.11,549.88 L1885.36,549.91 L1890.61,549.94 L1895.85,549.96 L1901.10,549.99 L1906.34,550.01 L1911.59,550.03 L1916.83,550.06 L1922.08,550.08 L1927.32,550.10 L1932.57,550.12 L1937.82,550.14 L1943.06,550.15 L1948.31,550.17 L1953.55,550.19 L1958.80,550.20 L1964.04,550.22 L1969.29,550.24 L1974.54,550.25 L1979.78,550.26 L1985.03,550.28" stroke="#5fcfe3" stroke-width="2.2"/>
<path d="M1089.38,4.44 L1094.70,30.01 L1096.49,38.31 L1098.27,46.47 L1100.06,54.49 L1101.84,62.39 L1103.63,70.15 L1105.42,77.78 L1107.20,85.29 L1108.99,92.67 L1110.77,99.94 L1112.56,107.08 L1114.34,114.10 L1116.13,121.01 L1117.92,127.81 L1119.70,134.49 L1121.49,141.07 L1123.27,147.53 L1125.06,153.89 L1126.85,160.15 L1128.63,166.30 L1130.42,172.35 L1132.20,178.30 L1133.99,184.16 L1135.78,189.92 L1137.56,195.58 L1139.35,201.16 L1141.13,206.64 L1142.92,212.03 L1144.71,217.33 L1146.49,222.55 L1148.28,227.68 L1150.06,232.73 L1151.85,237.70 L1153.63,242.59 L1155.42,247.39 L1157.21,252.12 L1158.99,256.77 L1160.78,261.35 L1162.56,265.85 L1164.35,270.28 L1166.14,274.64 L1167.92,278.93 L1169.71,283.15 L1171.49,287.29 L1173.28,291.38 L1175.07,295.39 L1176.85,299.35 L1178.64,303.23 L1180.42,307.06 L1182.21,310.82 L1184.00,314.53 L1185.78,318.17 L1187.57,321.75 L1189.35,325.28 L1191.14,328.75 L1192.92,332.17 L1194.71,335.53 L1196.50,338.84 L1198.28,342.09 L1200.07,345.29 L1201.85,348.44 L1203.64,351.54 L1205.43,354.59 L1207.21,357.59 L1209.00,360.55 L1210.78,363.45 L1212.57,366.31 L1214.36,369.13 L1216.14,371.90 L1217.93,374.62 L1219.71,377.30 L1221.50,379.94 L1223.29,382.54 L1225.07,385.10 L1226.86,387.62 L1228.64,390.09 L1230.43,392.53 L1232.21,394.93 L1234.00,397.29 L1235.79,399.61 L1237.57,401.90 L1239.36,404.15 L1241.14,406.36 L1242.93,408.54 L1244.72,410.69 L1246.50,412.80 L1248.29,414.88 L1250.07,416.92 L1251.86,418.94 L1253.65,420.92 L1255.43,422.87 L1257.22,424.79 L1259.00,426.68 L1260.79,428.54 L1262.58,430.37 L1264.36,432.17 L1266.15,433.95 L1267.93,435.69 L1269.72,437.41 L1271.50,439.10 L1273.29,440.77 L1275.08,442.41 L1276.86,444.03 L1278.65,445.61 L1280.43,447.18 L1282.22,448.72 L1284.01,450.24 L1285.79,451.73 L1287.58,453.20 L1289.36,454.64 L1291.15,456.07 L1292.94,457.47 L1294.72,458.85 L1296.51,460.21 L1298.29,461.55 L1300.08,462.87 L1301.87,464.16 L1303.65,465.44 L1305.44,466.70 L1307.22,467.93 L1309.01,469.15 L1310.79,470.35 L1312.58,471.53 L1314.37,472.70 L1316.15,473.84 L1317.94,474.97 L1319.72,476.08 L1321.51,477.17 L1323.30,478.25 L1325.08,479.31 L1326.87,480.36 L1328.65,481.38 L1330.44,482.40 L1332.23,483.39 L1334.01,484.37 L1335.80,485.34 L1337.58,486.29 L1339.37,487.23 L1341.16,488.15 L1342.94,489.06 L1344.73,489.96 L1346.51,490.84 L1348.30,491.71 L1350.08,492.56 L1351.87,493.40 L1353.66,494.23 L1355.44,495.05 L1357.23,495.85 L1359.01,496.64 L1360.80,497.42 L1366.05,499.65 L1371.29,501.77 L1376.54,503.81 L1381.78,505.75 L1387.03,507.61 L1392.27,509.39 L1397.52,511.10 L1402.76,512.72 L1408.01,514.28 L1413.26,515.78 L1418.50,517.20 L1423.75,518.57 L1428.99,519.88 L1434.24,521.13 L1439.48,522.33 L1444.73,523.48 L1449.98,524.58 L1455.22,525.63 L1460.47,526.64 L1465.71,527.60 L1470.96,528.53 L1476.20,529.41 L1481.45,530.26 L1486.69,531.07 L1491.94,531.85 L1497.19,532.60 L1502.43,533.31 L1507.68,534.00 L1512.92,534.65 L1518.17,535.28 L1523.41,535.89 L1528.66,536.47 L1533.90,537.02 L1539.15,537.55 L1544.40,538.06 L1549.64,538.55 L1554.89,539.02 L1560.13,539.47 L1565.38,539.91 L1570.62,540.32 L1575.87,540.72 L1581.12,541.10 L1586.36,541.47 L1591.61,541.82 L1596.85,542.15 L1602.10,542.48 L1607.34,542.79 L1612.59,543.09 L1617.83,543.37 L1623.08,543.65 L1628.33,543.91 L1633.57,544.17 L1638.82,544.41 L1644.06,544.64 L1649.31,544.87 L1654.55,545.08 L1659.80,545.29 L1665.04,545.49 L1670.29,545.68 L1675.54,545.87 L1680.78,546.04 L1686.03,546.21 L1691.27,546.38 L1696.52,546.53 L1701.76,546.68 L1707.01,546.83 L1712.26,546.97 L1717.50,547.10 L1722.75,547.23 L1727.99,547.36 L1733.24,547.48 L1738.48,547.59 L1743.73,547.70 L1748.97,547.81 L1754.22,547.91 L1759.47,548.01 L1764.71,548.10 L1769.96,548.20 L1775.20,548.28 L1780.45,548.37 L1785.69,548.45 L1790.94,548.53 L1796.18,548.60 L1801.43,548.68 L1806.68,548.75 L1811.92,548.81 L1817.17,548.88 L1822.41,548.94 L1827.66,549.00 L1832.90,549.06 L1838.15,549.11 L1843.40,549.17 L1848.64,549.22 L1853.89,549.27 L1859.13,549.32 L1864.38,549.36 L1869.62,549.41 L1874.87,549.45 L1880.11,549.49 L1885.36,549.53 L1890.61,549.57 L1895.85,549.61 L1901.10,549.65 L1906.34,549.68 L1911.59,549.71 L1916.83,549.75 L1922.08,549.78 L1927.32,549.81 L1932.57,549.84 L1937.82,549.86 L1943.06,549.89 L1948.31,549.92 L1953.55,549.94 L1958.80,549.97 L1964.04,549.99 L1969.29,550.01 L1974.54,550.03 L1979.78,550.06 L1985.03,550.08" stroke="#3f3f9f" stroke-width="4.7"/>
<path d="M1089.38,4.44 L1094.70,30.01 L1096.49,38.31 L1098.27,46.47 L1100.06,54.49 L1101.84,62.39 L1103.63,70.15 L1105.42,77.78 L1107.20,85.29 L1108.99,92.67 L1110.77,99.94 L1112.56,107.08 L1114.34,114.10 L1116.13,121.01 L1117.92,127.81 L1119.70,134.49 L1121.49,141.07 L1123.27,147.53 L1125.06,153.89 L1126.85,160.15 L1128.63,166.30 L1130.42,172.35 L1132.20,178.30 L1133.99,184.16 L1135.78,189.92 L1137.56,195.58 L1139.35,201.16 L1141.13,206.64 L1142.92,212.03 L1144.71,217.33 L1146.49,222.55 L1148.28,227.68 L1150.06,232.73 L1151.85,237.70 L1153.63,242.59 L1155.42,247.39 L1157.21,252.12 L1158.99,256.77 L1160.78,261.35 L1162.56,265.85 L1164.35,270.28 L1166.14,274.64 L1167.92,278.93 L1169.71,283.15 L1171.49,287.29 L1173.28,291.38 L1175.07,295.39 L1176.85,299.35 L1178.64,303.23 L1180.42,307.06 L1182.21,310.82 L1184.00,314.53 L1185.78,318.17 L1187.57,321.75 L1189.35,325.28 L1191.14,328.75 L1192.92,332.17 L1194.71,335.53 L1196.50,338.84 L1198.28,342.09 L1200.07,345.29 L1201.85,348.44 L1203.64,351.54 L1205.43,354.59 L1207.21,357.59 L1209.00,360.55 L1210.78,363.45 L1212.57,366.31 L1214.36,369.13 L1216.14,371.90 L1217.93,374.62 L1219.71,377.30 L1221.50,379.94 L1223.29,382.54 L1225.07,385.10 L1226.86,387.62 L1228.64,390.09 L1230.43,392.53 L1232.21,394.93 L1234.00,397.29 L1235.79,399.61 L1237.57,401.90 L1239.36,404.15 L1241.14,406.36 L1242.93,408.54 L1244.72,410.69 L1246.50,412.80 L1248.29,414.88 L1250.07,416.92 L1251.86,418.94 L1253.65,420.92 L1255.43,422.87 L1257.22,424.79 L1259.00,426.68 L1260.79,428.54 L1262.58,430.37 L1264.36,432.17 L1266.15,433.95 L1267.93,435.69 L1269.72,437.41 L1271.50,439.10 L1273.29,440.77 L1275.08,442.41 L1276.86,444.03 L1278.65,445.61 L1280.43,447.18 L1282.22,448.72 L1284.01,450.24 L1285.79,451.73 L1287.58,453.20 L1289.36,454.64 L1291.15,456.07 L1292.94,457.47 L1294.72,458.85 L1296.51,460.21 L1298.29,461.55 L1300.08,462.87 L1301.87,464.16 L1303.65,465.44 L1305.44,466.70 L1307.22,467.93 L1309.01,469.15 L1310.79,470.35 L1312.58,471.53 L1314.37,472.70 L1316.15,473.84 L1317.94,474.97 L1319.72,476.08 L1321.51,477.17 L1323.30,478.25 L1325.08,479.31 L1326.87,480.36 L1328.65,481.38 L1330.44,482.40 L1332.23,483.39 L1334.01,484.37 L1335.80,485.34 L1337.58,486.29 L1339.37,487.23 L1341.16,488.15 L1342.94,489.06 L1344.73,489.96 L1346.51,490.84 L1348.30,491.71 L1350.08,492.56 L1351.87,493.40 L1353.66,494.23 L1355.44,495.05 L1357.23,495.85 L1359.01,496.64 L1360.80,497.42 L1366.05,499.65 L1371.29,501.77 L1376.54,503.81 L1381.78,505.75 L1387.03,507.61 L1392.27,509.39 L1397.52,511.10 L1402.76,512.72 L1408.01,514.28 L1413.26,515.78 L1418.50,517.20 L1423.75,518.57 L1428.99,519.88 L1434.24,521.13 L1439.48,522.33 L1444.73,523.48 L1449.98,524.58 L1455.22,525.63 L1460.47,526.64 L1465.71,527.60 L1470.96,528.53 L1476.20,529.41 L1481.45,530.26 L1486.69,531.07 L1491.94,531.85 L1497.19,532.60 L1502.43,533.31 L1507.68,534.00 L1512.92,534.65 L1518.17,535.28 L1523.41,535.89 L1528.66,536.47 L1533.90,537.02 L1539.15,537.55 L1544.40,538.06 L1549.64,538.55 L1554.89,539.02 L1560.13,539.47 L1565.38,539.91 L1570.62,540.32 L1575.87,540.72 L1581.12,541.10 L1586.36,541.47 L1591.61,541.82 L1596.85,542.15 L1602.10,542.48 L1607.34,542.79 L1612.59,543.09 L1617.83,543.37 L1623.08,543.65 L1628.33,543.91 L1633.57,544.17 L1638.82,544.41 L1644.06,544.64 L1649.31,544.87 L1654.55,545.08 L1659.80,545.29 L1665.04,545.49 L1670.29,545.68 L1675.54,545.87 L1680.78,546.04 L1686.03,546.21 L1691.27,546.38 L1696.52,546.53 L1701.76,546.68 L1707.01,546.83 L1712.26,546.97 L1717.50,547.10 L1722.75,547.23 L1727.99,547.36 L1733.24,547.48 L1738.48,547.59 L1743.73,547.70 L1748.97,547.81 L1754.22,547.91 L1759.47,548.01 L1764.71,548.10 L1769.96,548.20 L1775.20,548.28 L1780.45,548.37 L1785.69,548.45 L1790.94,548.53 L1796.18,548.60 L1801.43,548.68 L1806.68,548.75 L1811.92,548.81 L1817.17,548.88 L1822.41,548.94 L1827.66,549.00 L1832.90,549.06 L1838.15,549.11 L1843.40,549.17 L1848.64,549.22 L1853.89,549.27 L1859.13,549.32 L1864.38,549.36 L1869.62,549.41 L1874.87,549.45 L1880.11,549.49 L1885.36,549.53 L1890.61,549.57 L1895.85,549.61 L1901.10,549.65 L1906.34,549.68 L1911.59,549.71 L1916.83,549.75 L1922.08,549.78 L1927.32,549.81 L1932.57,549.84 L1937.82,549.86 L1943.06,549.89 L1948.31,549.92 L1953.55,549.94 L1958.80,549.97 L1964.04,549.99 L1969.29,550.01 L1974.54,550.03 L1979.78,550.06 L1985.03,550.08" stroke="#5fcfe3" stroke-width="2.2"/>
</g>
<g stroke="#3a53a8" fill="#3a53a8">
<line x1="1125.6" y1="484.5" x2="1215" y2="324.2" stroke-width="2.1"/>
<polygon points="1227.3,302.1 1208.8,322.1 1220.4,328.6" stroke="none"/>
</g>
<line x1="1801.8" y1="463" x2="1917" y2="463" stroke="#ed1c24" stroke-width="4.6"/>
<line x1="1801.8" y1="514.3" x2="1917" y2="514.3" stroke="#6ccbdf" stroke-width="4.6"/>
<rect x="78.3" y="2.3" width="887.50" height="548.40" fill="none" stroke="#000" stroke-width="2.3"/>
<path d="M96.06,549.55v-9.6M96.06,3.45v9.6M266.41,549.55v-9.6M266.41,3.45v9.6M436.76,549.55v-9.6M436.76,3.45v9.6M607.11,549.55v-9.6M607.11,3.45v9.6M777.46,549.55v-9.6M777.46,3.45v9.6M947.81,549.55v-9.6M947.81,3.45v9.6M130.13,549.55v-5.6M130.13,3.45v5.6M164.20,549.55v-5.6M164.20,3.45v5.6M198.27,549.55v-5.6M198.27,3.45v5.6M232.34,549.55v-5.6M232.34,3.45v5.6M300.48,549.55v-5.6M300.48,3.45v5.6M334.55,549.55v-5.6M334.55,3.45v5.6M368.62,549.55v-5.6M368.62,3.45v5.6M402.69,549.55v-5.6M402.69,3.45v5.6M470.83,549.55v-5.6M470.83,3.45v5.6M504.90,549.55v-5.6M504.90,3.45v5.6M538.97,549.55v-5.6M538.97,3.45v5.6M573.04,549.55v-5.6M573.04,3.45v5.6M641.18,549.55v-5.6M641.18,3.45v5.6M675.25,549.55v-5.6M675.25,3.45v5.6M709.32,549.55v-5.6M709.32,3.45v5.6M743.39,549.55v-5.6M743.39,3.45v5.6M811.53,549.55v-5.6M811.53,3.45v5.6M845.60,549.55v-5.6M845.60,3.45v5.6M879.67,549.55v-5.6M879.67,3.45v5.6M913.74,549.55v-5.6M913.74,3.45v5.6M79.45,533.40h9.2M964.65,533.40h-9.2M79.45,430.56h9.2M964.65,430.56h-9.2M79.45,327.72h9.2M964.65,327.72h-9.2M79.45,224.88h9.2M964.65,224.88h-9.2M79.45,122.04h9.2M964.65,122.04h-9.2M79.45,19.20h9.2M964.65,19.20h-9.2M79.45,507.69h5.4M964.65,507.69h-5.4M79.45,481.98h5.4M964.65,481.98h-5.4M79.45,456.27h5.4M964.65,456.27h-5.4M79.45,404.85h5.4M964.65,404.85h-5.4M79.45,379.14h5.4M964.65,379.14h-5.4M79.45,353.43h5.4M964.65,353.43h-5.4M79.45,302.01h5.4M964.65,302.01h-5.4M79.45,276.30h5.4M964.65,276.30h-5.4M79.45,250.59h5.4M964.65,250.59h-5.4M79.45,199.17h5.4M964.65,199.17h-5.4M79.45,173.46h5.4M964.65,173.46h-5.4M79.45,147.75h5.4M964.65,147.75h-5.4M79.45,96.33h5.4M964.65,96.33h-5.4M79.45,70.62h5.4M964.65,70.62h-5.4M79.45,44.91h5.4M964.65,44.91h-5.4" stroke="#000" stroke-width="2.1" fill="none"/>
<rect x="1094.7" y="2.5" width="887.00" height="548.20" fill="none" stroke="#000" stroke-width="2.3"/>
<path d="M1316.45,549.55v-9.6M1316.45,3.65v9.6M1538.20,549.55v-9.6M1538.20,3.65v9.6M1759.95,549.55v-9.6M1759.95,3.65v9.6M1139.05,549.55v-5.6M1139.05,3.65v5.6M1183.40,549.55v-5.6M1183.40,3.65v5.6M1227.75,549.55v-5.6M1227.75,3.65v5.6M1272.10,549.55v-5.6M1272.10,3.65v5.6M1360.80,549.55v-5.6M1360.80,3.65v5.6M1405.15,549.55v-5.6M1405.15,3.65v5.6M1449.50,549.55v-5.6M1449.50,3.65v5.6M1493.85,549.55v-5.6M1493.85,3.65v5.6M1582.55,549.55v-5.6M1582.55,3.65v5.6M1626.90,549.55v-5.6M1626.90,3.65v5.6M1671.25,549.55v-5.6M1671.25,3.65v5.6M1715.60,549.55v-5.6M1715.60,3.65v5.6M1804.30,549.55v-5.6M1804.30,3.65v5.6M1848.65,549.55v-5.6M1848.65,3.65v5.6M1893.00,549.55v-5.6M1893.00,3.65v5.6M1937.35,549.55v-5.6M1937.35,3.65v5.6M1095.85,477.60h9.2M1980.55,477.60h-9.2M1095.85,404.50h9.2M1980.55,404.50h-9.2M1095.85,331.40h9.2M1980.55,331.40h-9.2M1095.85,258.30h9.2M1980.55,258.30h-9.2M1095.85,185.20h9.2M1980.55,185.20h-9.2M1095.85,112.10h9.2M1980.55,112.10h-9.2M1095.85,39.00h9.2M1980.55,39.00h-9.2M1095.85,536.08h5.4M1980.55,536.08h-5.4M1095.85,521.46h5.4M1980.55,521.46h-5.4M1095.85,506.84h5.4M1980.55,506.84h-5.4M1095.85,492.22h5.4M1980.55,492.22h-5.4M1095.85,462.98h5.4M1980.55,462.98h-5.4M1095.85,448.36h5.4M1980.55,448.36h-5.4M1095.85,433.74h5.4M1980.55,433.74h-5.4M1095.85,419.12h5.4M1980.55,419.12h-5.4M1095.85,389.88h5.4M1980.55,389.88h-5.4M1095.85,375.26h5.4M1980.55,375.26h-5.4M1095.85,360.64h5.4M1980.55,360.64h-5.4M1095.85,346.02h5.4M1980.55,346.02h-5.4M1095.85,316.78h5.4M1980.55,316.78h-5.4M1095.85,302.16h5.4M1980.55,302.16h-5.4M1095.85,287.54h5.4M1980.55,287.54h-5.4M1095.85,272.92h5.4M1980.55,272.92h-5.4M1095.85,243.68h5.4M1980.55,243.68h-5.4M1095.85,229.06h5.4M1980.55,229.06h-5.4M1095.85,214.44h5.4M1980.55,214.44h-5.4M1095.85,199.82h5.4M1980.55,199.82h-5.4M1095.85,170.58h5.4M1980.55,170.58h-5.4M1095.85,155.96h5.4M1980.55,155.96h-5.4M1095.85,141.34h5.4M1980.55,141.34h-5.4M1095.85,126.72h5.4M1980.55,126.72h-5.4M1095.85,97.48h5.4M1980.55,97.48h-5.4M1095.85,82.86h5.4M1980.55,82.86h-5.4M1095.85,68.24h5.4M1980.55,68.24h-5.4M1095.85,53.62h5.4M1980.55,53.62h-5.4M1095.85,24.38h5.4M1980.55,24.38h-5.4M1095.85,9.76h5.4M1980.55,9.76h-5.4" stroke="#000" stroke-width="2.1" fill="none"/>
<g style="font-family:'Liberation Serif','DejaVu Serif',serif" fill="#000" stroke="#000" stroke-width="0.3" stroke-linejoin="round">
<text transform="translate(69.60,542.45) scale(0.953,1)" font-size="25.2" text-anchor="end" stroke-width="0.45">0.0</text>
<text transform="translate(69.60,439.61) scale(0.953,1)" font-size="25.2" text-anchor="end" stroke-width="0.45">0.2</text>
<text transform="translate(69.60,336.77) scale(0.953,1)" font-size="25.2" text-anchor="end" stroke-width="0.45">0.4</text>
<text transform="translate(69.60,233.93) scale(0.953,1)" font-size="25.2" text-anchor="end" stroke-width="0.45">0.6</text>
<text transform="translate(69.60,131.09) scale(0.953,1)" font-size="25.2" text-anchor="end" stroke-width="0.45">0.8</text>
<text transform="translate(69.60,28.25) scale(0.953,1)" font-size="25.2" text-anchor="end" stroke-width="0.45">1.0</text>
<text transform="translate(96.06,581.30) scale(0.953,1)" font-size="25.2" text-anchor="middle" stroke-width="0.45">0</text>
<text transform="translate(266.41,581.30) scale(0.953,1)" font-size="25.2" text-anchor="middle" stroke-width="0.45">1</text>
<text transform="translate(436.76,581.30) scale(0.953,1)" font-size="25.2" text-anchor="middle" stroke-width="0.45">2</text>
<text transform="translate(607.11,581.30) scale(0.953,1)" font-size="25.2" text-anchor="middle" stroke-width="0.45">3</text>
<text transform="translate(777.46,581.30) scale(0.953,1)" font-size="25.2" text-anchor="middle" stroke-width="0.45">4</text>
<text transform="translate(947.81,581.30) scale(0.953,1)" font-size="25.2" text-anchor="middle" stroke-width="0.45">5</text>
<text transform="translate(1085.30,558.70) scale(0.953,1)" font-size="25.2" text-anchor="end" stroke-width="0.45">0.0</text>
<text transform="translate(1085.30,485.60) scale(0.953,1)" font-size="25.2" text-anchor="end" stroke-width="0.45">0.1</text>
<text transform="translate(1085.30,412.50) scale(0.953,1)" font-size="25.2" text-anchor="end" stroke-width="0.45">0.2</text>
<text transform="translate(1085.30,339.40) scale(0.953,1)" font-size="25.2" text-anchor="end" stroke-width="0.45">0.3</text>
<text transform="translate(1085.30,266.30) scale(0.953,1)" font-size="25.2" text-anchor="end" stroke-width="0.45">0.4</text>
<text transform="translate(1085.30,193.20) scale(0.953,1)" font-size="25.2" text-anchor="end" stroke-width="0.45">0.5</text>
<text transform="translate(1085.30,120.10) scale(0.953,1)" font-size="25.2" text-anchor="end" stroke-width="0.45">0.6</text>
<text transform="translate(1085.30,47.00) scale(0.953,1)" font-size="25.2" text-anchor="end" stroke-width="0.45">0.7</text>
<text transform="translate(1094.40,580.80) scale(0.953,1)" font-size="25.2" text-anchor="middle" stroke-width="0.45">0.0</text>
<text transform="translate(1316.15,580.80) scale(0.953,1)" font-size="25.2" text-anchor="middle" stroke-width="0.45">0.5</text>
<text transform="translate(1537.90,580.80) scale(0.953,1)" font-size="25.2" text-anchor="middle" stroke-width="0.45">1.0</text>
<text transform="translate(1759.65,580.80) scale(0.953,1)" font-size="25.2" text-anchor="middle" stroke-width="0.45">1.5</text>
<text transform="translate(1981.40,580.80) scale(0.953,1)" font-size="25.2" text-anchor="middle" stroke-width="0.45">2.0</text>
<text transform="translate(247.66,272.50) scale(1.0799,1)" font-size="32.2">λ</text>
<text transform="translate(265.85,277.50) scale(0.8000,1)" font-size="24.0">1</text>
<text transform="translate(278.04,275.80) scale(1.1011,1)" font-size="34.1" stroke-width="0.9">=</text>
<text transform="translate(299.25,272.50) scale(0.9822,1)" font-size="34.1">0.0,</text>
<text transform="translate(356.35,272.50) scale(0.9822,1)" font-size="34.1">0.2,</text>
<text transform="translate(413.57,272.50) scale(0.9628,1)" font-size="34.1">0.4</text>
<text transform="translate(1247.66,291.30) scale(1.0799,1)" font-size="32.2">λ</text>
<text transform="translate(1265.85,296.30) scale(0.8000,1)" font-size="24.0">1</text>
<text transform="translate(1278.04,294.60) scale(1.1011,1)" font-size="34.1" stroke-width="0.9">=</text>
<text transform="translate(1299.25,291.30) scale(0.9822,1)" font-size="34.1">0.0,</text>
<text transform="translate(1356.35,291.30) scale(0.9822,1)" font-size="34.1">0.2,</text>
<text transform="translate(1413.57,291.30) scale(0.9628,1)" font-size="34.1">0.4</text>
<text transform="translate(525.33,422.40) scale(1.2500,1)" font-size="34.1" font-style="italic" stroke-width="0.1">γ</text>
<text transform="translate(543.32,425.70) scale(1.1136,1)" font-size="34.1" stroke-width="0.9">=</text>
<text transform="translate(565.72,422.40) scale(0.9686,1)" font-size="34.1">1.2,</text>
<text transform="translate(621.67,422.40) scale(0.9862,1)" font-size="34.1">M</text>
<text transform="translate(651.02,425.70) scale(1.1136,1)" font-size="34.1" stroke-width="0.9">=</text>
<text transform="translate(673.23,422.40) scale(0.9643,1)" font-size="34.1">1.0,</text>
<text transform="translate(729.97,422.40)" font-size="34.1">Γ</text>
<text transform="translate(748.82,425.70) scale(1.1136,1)" font-size="34.1" stroke-width="0.9">=</text>
<text transform="translate(771.33,422.40) scale(0.9665,1)" font-size="34.1">1.0,</text>
<text transform="translate(828.88,422.40) scale(1.1095,1)" font-size="34.1" font-style="italic" stroke-width="0.1">β</text>
<text transform="translate(847.33,425.70) scale(1.1073,1)" font-size="34.1" stroke-width="0.9">=</text>
<text transform="translate(867.77,422.40) scale(0.9656,1)" font-size="34.1">2.5</text>
<text transform="translate(529.95,474.80) scale(1.0237,1)" font-size="34.1" font-style="italic">φ</text>
<text transform="translate(549.60,479.80) scale(0.8000,1)" font-size="24.0">1</text>
<text transform="translate(562.42,478.10) scale(1.0510,1)" font-size="34.1" stroke-width="0.9">=</text>
<text transform="translate(583.06,474.80) scale(0.9784,1)" font-size="34.1">0.02,</text>
<text transform="translate(656.75,474.80) scale(1.0237,1)" font-size="34.1" font-style="italic">φ</text>
<text transform="translate(675.02,479.80) scale(1.0370,1)" font-size="24.0">2</text>
<text transform="translate(689.09,478.10) scale(1.0698,1)" font-size="34.1" stroke-width="0.9">=</text>
<text transform="translate(709.86,474.80) scale(0.9725,1)" font-size="34.1">0.015,</text>
<text transform="translate(800.89,474.80) scale(1.1200,1)" font-size="34.1" font-style="italic" stroke-width="0.1">ρ</text>
<text transform="translate(819.61,479.80) scale(1.2500,1)" font-size="24.0" font-style="italic" stroke-width="0.1">f</text>
<text transform="translate(835.05,478.10) scale(1.0948,1)" font-size="34.1" stroke-width="0.9">=</text>
<text transform="translate(855.75,474.80) scale(0.9813,1)" font-size="34.1">900</text>
<text transform="translate(536.46,519.60) scale(0.9659,1)" font-size="34.1" font-style="italic">C</text>
<text transform="translate(557.31,524.60) scale(1.0556,1)" font-size="24.0" font-style="italic">r</text>
<text transform="translate(568.20,522.90) scale(1.0635,1)" font-size="34.1" stroke-width="0.9">=</text>
<text transform="translate(589.04,519.60) scale(0.9926,1)" font-size="34.1">0.2,</text>
<text transform="translate(647.40,519.60) scale(1.1261,1)" font-size="34.1" font-style="italic" stroke-width="0.1">ρ</text>
<text transform="translate(665.95,524.60) scale(0.8000,1)" font-size="24.0">1</text>
<text transform="translate(678.07,522.90) scale(1.0823,1)" font-size="34.1" stroke-width="0.9">=</text>
<text transform="translate(699.76,519.60) scale(0.9765,1)" font-size="34.1">8933,</text>
<text transform="translate(782.08,519.60) scale(1.1079,1)" font-size="34.1" font-style="italic" stroke-width="0.1">ρ</text>
<text transform="translate(798.89,524.60) scale(1.0864,1)" font-size="24.0">2</text>
<text transform="translate(812.95,522.90) scale(1.0948,1)" font-size="34.1" stroke-width="0.9">=</text>
<text transform="translate(833.74,519.60) scale(0.9781,1)" font-size="34.1">3970</text>
<text transform="translate(1626.61,355.40) scale(0.9933,1)" font-size="34.1" font-style="italic">C</text>
<text transform="translate(1647.81,360.40) scale(1.0556,1)" font-size="24.0" font-style="italic">r</text>
<text transform="translate(1658.57,358.70) scale(1.0823,1)" font-size="34.1" stroke-width="0.9">=</text>
<text transform="translate(1679.54,355.40) scale(0.9926,1)" font-size="34.1">0.2,</text>
<text transform="translate(1736.87,355.40) scale(1.0534,1)" font-size="32.2">λ</text>
<text transform="translate(1753.30,360.40) scale(1.0667,1)" font-size="24.0">2</text>
<text transform="translate(1767.39,358.70) scale(1.0698,1)" font-size="34.1" stroke-width="0.9">=</text>
<text transform="translate(1788.56,355.40) scale(0.9760,1)" font-size="34.1">0.1,</text>
<text transform="translate(1845.48,355.40) scale(1.0402,1)" font-size="32.2">λ</text>
<text transform="translate(1861.62,360.40) scale(0.9580,1)" font-size="24.0">3</text>
<text transform="translate(1875.38,358.70) scale(1.0761,1)" font-size="34.1" stroke-width="0.9">=</text>
<text transform="translate(1896.32,355.40) scale(0.9234,1)" font-size="34.1">0.1</text>
<text transform="translate(1685.67,415.40) scale(0.9925,1)" font-size="34.1">Pr</text>
<text transform="translate(1715.60,418.70) scale(1.0635,1)" font-size="34.1" stroke-width="0.9">=</text>
<text transform="translate(1736.37,415.40) scale(0.9859,1)" font-size="34.1">4.5,</text>
<text transform="translate(1793.69,415.40) scale(0.9652,1)" font-size="34.1">R</text>
<text transform="translate(1816.40,418.70) scale(1.0635,1)" font-size="34.1" stroke-width="0.9">=</text>
<text transform="translate(1838.31,415.40) scale(0.9358,1)" font-size="34.1">1.0</text>
<text transform="translate(1732.42,472.50) scale(1.0496,1)" font-size="34.1" font-style="italic">θ</text>
<text transform="translate(1748.96,472.50) scale(0.8863,1)" font-size="34.1">(</text>
<text transform="translate(1758.42,472.50) scale(1.0121,1)" font-size="34.1" font-style="italic">η</text>
<text transform="translate(1773.99,472.50) scale(1.0378,1)" font-size="34.1">)</text>
<text transform="translate(1729.07,523.50) scale(0.9939,1)" font-size="34.1">H</text>
<text transform="translate(1753.06,523.50) scale(0.8863,1)" font-size="34.1">(</text>
<text transform="translate(1762.80,523.50) scale(1.0323,1)" font-size="34.1" font-style="italic">η</text>
<text transform="translate(1778.57,523.50) scale(1.0599,1)" font-size="34.1">)</text>
<g stroke-width="0.25">
<text transform="translate(515.02,625.30) scale(1.1714,1)" font-size="24.0" font-style="italic" stroke-width="0.1">η</text>
<text transform="translate(1531.13,625.30) scale(1.1619,1)" font-size="24.0" font-style="italic" stroke-width="0.1">η</text>
</g>
<g stroke-width="0.15">
<text transform="translate(262.61,677.00) scale(1.0364,1)" font-size="46.0">(a)</text>
<text transform="translate(332.47,677.00) scale(1.0662,1)" font-size="46.0">Impact</text>
<text transform="translate(485.53,677.00) scale(1.0221,1)" font-size="46.0">of</text>
<text transform="translate(541.54,677.00) scale(1.0747,1)" font-size="46.0" font-style="italic">λ</text>
<text transform="translate(564.54,683.60) scale(0.9682,1)" font-size="32.5">1</text>
<text transform="translate(597.41,677.00) scale(1.0390,1)" font-size="46.0">on</text>
<text transform="translate(662.70,677.00) scale(1.0542,1)" font-size="46.0" font-style="italic">f</text>
<text transform="translate(681.44,684.40) scale(1.0375,1)" font-size="64" font-style="italic">′</text>
<text transform="translate(701.26,677.00)" font-size="46.0">(</text>
<text transform="translate(716.59,677.00) scale(1.0484,1)" font-size="46.0" font-style="italic">η</text>
<text transform="translate(740.54,677.00)" font-size="46.0">)</text>
<text transform="translate(1216.20,681.60) scale(1.0408,1)" font-size="46.0">(b)</text>
<text transform="translate(1288.67,681.60) scale(1.0630,1)" font-size="46.0">Impact</text>
<text transform="translate(1442.04,681.60) scale(1.0140,1)" font-size="46.0">of</text>
<text transform="translate(1497.32,681.60) scale(1.0555,1)" font-size="46.0" font-style="italic">λ</text>
<text transform="translate(1520.36,688.20)" font-size="32.5">1</text>
<text transform="translate(1553.85,681.60) scale(1.0121,1)" font-size="46.0">on</text>
<text transform="translate(1619.26,681.60) scale(1.0558,1)" font-size="46.0" font-style="italic">H</text>
<text transform="translate(1660.36,681.60)" font-size="46.0">(</text>
<text transform="translate(1675.62,681.60) scale(1.0286,1)" font-size="46.0" font-style="italic">η</text>
<text transform="translate(1699.54,681.60)" font-size="46.0">)</text>
<text transform="translate(1731.46,681.60) scale(1.0680,1)" font-size="46.0">and</text>
<text transform="translate(1818.30,681.60) scale(1.0203,1)" font-size="46.0" font-style="italic">θ</text>
<text transform="translate(1843.36,681.60)" font-size="46.0">(</text>
<text transform="translate(1858.66,681.60) scale(1.0733,1)" font-size="46.0" font-style="italic">η</text>
<text transform="translate(1882.54,681.60)" font-size="46.0">)</text>
</g>
<g transform="translate(17.2,297.6) rotate(-90)" stroke-width="0.2">
<text transform="translate(-0.38,0.00)" font-size="24.5">f</text>
<text transform="translate(11.23,1.40)" font-size="24.5">'</text>
<text transform="translate(15.19,0.00) scale(0.9288,1)" font-size="24.5">(</text>
<text transform="translate(22.30,0.00) scale(1.0449,1)" font-size="24.5" font-style="italic">η</text>
<text transform="translate(34.57,0.00) scale(0.9527,1)" font-size="24.5">)</text>
</g>
</g>
</svg>
</body></html>
